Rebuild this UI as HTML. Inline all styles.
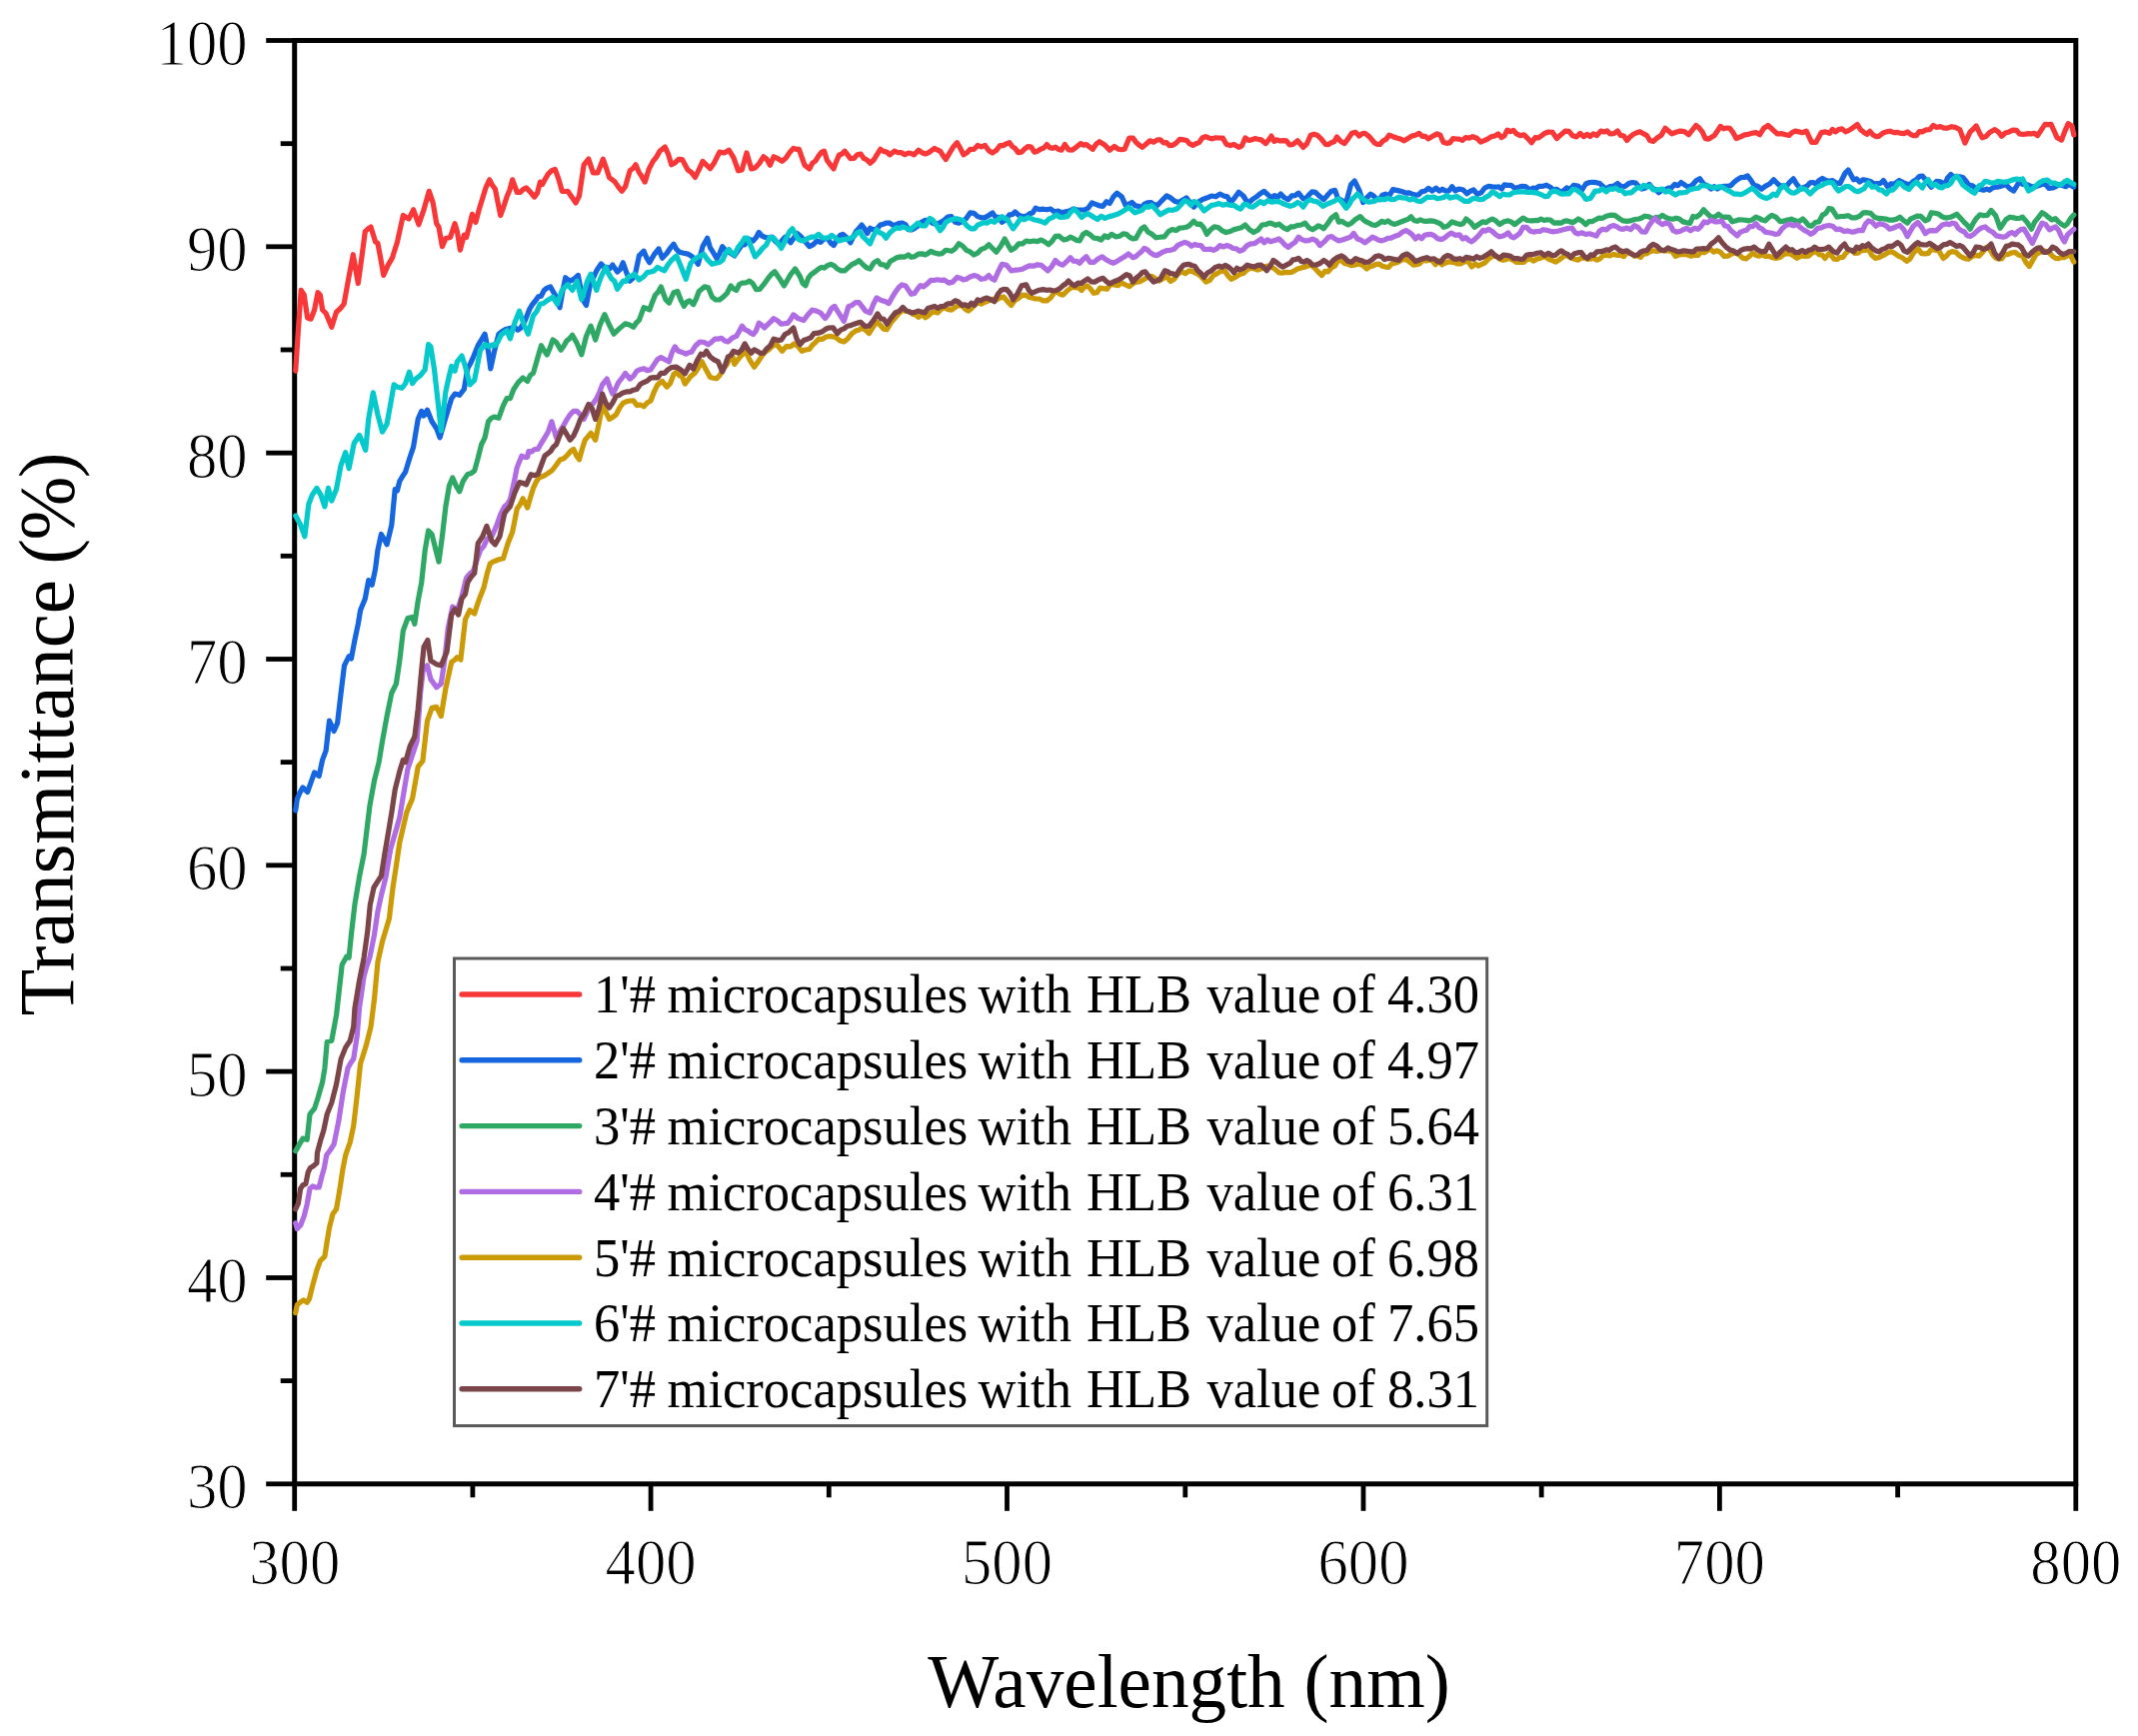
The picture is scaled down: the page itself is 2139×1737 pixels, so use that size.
<!DOCTYPE html>
<html lang="en"><head><meta charset="utf-8"><title>Transmittance vs Wavelength</title>
<style>html,body{margin:0;padding:0;background:#fff}svg{display:block}</style></head>
<body>
<svg width="2139" height="1737" viewBox="0 0 2139 1737">
<rect width="2139" height="1737" fill="#fff"/>
<rect x="294.7" y="40.5" width="1782.1" height="1444.3" fill="none" stroke="#000" stroke-width="5.0"/>
<g stroke="#000" stroke-width="4.8">
<line x1="294.7" y1="1484.8" x2="294.7" y2="1511.8"/>
<line x1="472.9" y1="1484.8" x2="472.9" y2="1498.3"/>
<line x1="651.1" y1="1484.8" x2="651.1" y2="1511.8"/>
<line x1="829.3" y1="1484.8" x2="829.3" y2="1498.3"/>
<line x1="1007.5" y1="1484.8" x2="1007.5" y2="1511.8"/>
<line x1="1185.8" y1="1484.8" x2="1185.8" y2="1498.3"/>
<line x1="1364.0" y1="1484.8" x2="1364.0" y2="1511.8"/>
<line x1="1542.2" y1="1484.8" x2="1542.2" y2="1498.3"/>
<line x1="1720.4" y1="1484.8" x2="1720.4" y2="1511.8"/>
<line x1="1898.6" y1="1484.8" x2="1898.6" y2="1498.3"/>
<line x1="2076.8" y1="1484.8" x2="2076.8" y2="1511.8"/>
<line x1="294.7" y1="1484.8" x2="266.2" y2="1484.8"/>
<line x1="294.7" y1="1381.6" x2="280.7" y2="1381.6"/>
<line x1="294.7" y1="1278.5" x2="266.2" y2="1278.5"/>
<line x1="294.7" y1="1175.3" x2="280.7" y2="1175.3"/>
<line x1="294.7" y1="1072.1" x2="266.2" y2="1072.1"/>
<line x1="294.7" y1="969.0" x2="280.7" y2="969.0"/>
<line x1="294.7" y1="865.8" x2="266.2" y2="865.8"/>
<line x1="294.7" y1="762.6" x2="280.7" y2="762.6"/>
<line x1="294.7" y1="659.5" x2="266.2" y2="659.5"/>
<line x1="294.7" y1="556.3" x2="280.7" y2="556.3"/>
<line x1="294.7" y1="453.2" x2="266.2" y2="453.2"/>
<line x1="294.7" y1="350.0" x2="280.7" y2="350.0"/>
<line x1="294.7" y1="246.8" x2="266.2" y2="246.8"/>
<line x1="294.7" y1="143.7" x2="280.7" y2="143.7"/>
<line x1="294.7" y1="40.5" x2="266.2" y2="40.5"/>
</g>
<g fill="none" stroke-width="5.2" stroke-linejoin="round" stroke-linecap="round">
<path stroke="#F83838" d="M295.7,371.1 L298.4,330.0 L301.2,290.4 L304.2,295.0 L307.6,318.1 L311.1,319.2 L314.6,310.0 L318.0,292.7 L320.3,295.0 L322.6,310.0 L326.1,313.5 L329.0,320.6 L331.8,327.3 L336.5,312.3 L340.4,308.8 L344.1,304.2 L349.1,276.6 L353.3,254.7 L358.3,283.5 L361.8,258.2 L365.3,231.7 L368.1,229.0 L371.0,227.1 L375.6,242.0 L377.9,243.2 L380.8,258.5 L383.7,275.4 L388.3,265.1 L392.4,258.2 L397.5,242.0 L400.4,228.7 L403.3,215.5 L406.2,217.5 L409.0,219.0 L413.6,209.8 L418.9,224.7 L424.0,209.8 L429.3,191.3 L433.2,202.9 L436.7,223.6 L439.0,227.1 L442.4,246.6 L445.9,238.6 L450.5,237.4 L455.1,223.6 L457.4,231.7 L460.4,250.1 L464.3,235.1 L466.6,237.4 L469.5,226.6 L472.4,214.4 L475.9,222.4 L479.3,209.6 L482.8,198.2 L486.2,187.3 L489.7,179.8 L492.6,185.4 L495.4,189.0 L500.7,215.5 L503.8,207.0 L507.0,197.1 L509.8,190.5 L512.7,179.8 L517.3,192.5 L520.4,192.3 L523.5,189.3 L526.5,187.9 L530.6,192.1 L534.6,197.1 L537.5,193.1 L540.4,182.1 L542.7,184.4 L545.6,178.8 L548.4,174.1 L551.9,170.7 L555.3,169.4 L558.8,178.9 L562.3,191.3 L565.1,191.5 L568.0,191.3 L572.1,197.3 L576.1,202.9 L579.5,195.9 L584.1,164.8 L588.8,159.1 L593.4,172.9 L598.0,172.9 L603.3,159.1 L606.4,167.8 L609.5,177.5 L612.4,179.7 L615.3,182.1 L618.7,187.1 L622.2,191.3 L625.6,186.7 L630.2,170.6 L633.1,168.7 L636.0,164.8 L639.1,172.1 L642.1,176.6 L645.2,182.1 L649.2,169.3 L653.3,161.4 L656.7,157.1 L660.2,151.0 L665.3,147.1 L668.5,154.1 L671.7,164.8 L675.3,162.9 L678.9,159.3 L682.5,159.6 L685.3,164.7 L688.1,169.9 L691.8,172.6 L695.5,177.4 L699.3,169.7 L703.0,161.4 L706.8,165.2 L710.5,168.7 L714.3,163.3 L717.1,157.6 L719.9,152.1 L724.5,153.0 L729.2,150.2 L733.9,157.7 L738.6,170.8 L742.3,169.9 L747.0,153.0 L751.7,168.9 L755.4,168.0 L759.6,163.5 L763.8,156.8 L767.1,159.2 L770.4,165.2 L774.1,156.8 L778.3,158.7 L782.5,161.4 L786.3,158.0 L790.0,152.6 L793.8,148.4 L796.6,149.3 L799.4,149.3 L802.2,157.4 L805.0,165.2 L809.7,168.9 L812.8,163.2 L815.9,161.0 L819.0,155.8 L821.8,152.4 L824.6,151.2 L827.4,160.2 L830.3,164.3 L834.0,168.9 L836.8,161.2 L839.6,154.9 L842.4,154.0 L845.2,151.2 L848.0,154.9 L850.8,158.6 L854.3,158.4 L857.7,154.7 L861.1,154.0 L864.2,158.4 L867.4,160.0 L870.5,163.3 L873.9,160.3 L877.3,154.8 L880.8,149.3 L883.9,151.4 L887.0,152.0 L890.1,154.9 L894.8,151.2 L898.3,152.7 L901.8,152.7 L905.3,154.8 L908.8,153.0 L911.6,153.5 L914.4,154.9 L919.1,150.2 L922.4,152.8 L925.7,154.0 L928.8,152.8 L931.9,150.6 L935.0,148.4 L937.8,150.0 L940.6,151.2 L943.4,155.6 L946.2,159.6 L950.0,153.2 L953.7,147.0 L957.5,142.7 L960.7,148.3 L964.0,154.9 L967.3,152.9 L970.6,149.3 L974.3,149.5 L978.1,145.5 L981.8,146.9 L985.5,145.5 L989.3,150.7 L993.0,153.0 L996.8,150.3 L1000.5,145.5 L1003.6,145.6 L1006.7,143.9 L1009.9,142.7 L1012.7,146.6 L1015.5,148.4 L1018.7,152.6 L1022.0,152.1 L1025.3,148.8 L1028.6,146.5 L1031.7,147.1 L1034.8,152.2 L1037.9,151.2 L1041.0,149.3 L1044.2,148.1 L1047.3,144.6 L1050.2,147.6 L1053.1,148.3 L1055.9,147.2 L1058.7,149.2 L1062.0,150.2 L1065.3,144.5 L1069.0,149.8 L1072.7,150.2 L1077.0,147.1 L1081.2,143.6 L1084.0,145.1 L1086.8,144.5 L1090.0,147.1 L1093.3,149.2 L1096.6,144.3 L1099.9,141.7 L1104.5,144.5 L1107.4,147.2 L1110.2,150.2 L1114.8,146.4 L1118.6,149.2 L1121.9,149.7 L1125.1,149.2 L1129.8,138.0 L1133.5,138.0 L1136.7,142.6 L1139.8,145.2 L1142.9,147.4 L1146.6,144.2 L1150.4,140.8 L1154.1,142.2 L1157.9,139.9 L1161.0,139.8 L1164.1,142.8 L1167.2,142.7 L1170.0,145.6 L1172.8,145.5 L1176.6,143.2 L1180.3,139.3 L1184.1,139.9 L1187.2,140.5 L1190.3,143.9 L1193.4,145.5 L1196.5,143.7 L1199.7,142.6 L1202.8,138.0 L1206.1,136.6 L1209.5,138.0 L1212.9,138.9 L1216.2,137.8 L1219.6,138.0 L1223.3,138.1 L1227.1,144.5 L1230.8,145.6 L1234.6,144.5 L1239.3,147.4 L1242.5,145.8 L1245.8,138.0 L1249.1,140.3 L1252.3,139.9 L1255.5,138.6 L1258.6,139.3 L1261.7,139.9 L1266.4,143.6 L1269.2,140.2 L1272.0,136.1 L1274.8,141.4 L1277.6,139.9 L1280.7,141.0 L1283.8,140.6 L1287.0,140.8 L1290.2,144.8 L1293.5,144.5 L1298.2,140.8 L1301.0,144.0 L1303.8,147.4 L1307.5,143.8 L1311.3,135.2 L1314.6,134.3 L1317.8,135.2 L1322.0,139.2 L1326.2,144.5 L1329.1,144.6 L1331.9,142.7 L1334.7,141.8 L1337.5,137.1 L1341.2,141.2 L1345.0,143.6 L1348.7,138.9 L1352.4,133.3 L1356.2,132.3 L1359.9,136.1 L1362.7,133.8 L1365.5,133.3 L1368.7,135.6 L1371.8,138.8 L1374.9,142.7 L1377.7,144.4 L1380.5,144.5 L1383.6,141.0 L1386.7,139.4 L1389.9,135.2 L1393.6,136.7 L1397.3,138.0 L1401.1,139.0 L1404.8,140.8 L1408.6,138.6 L1412.3,136.1 L1416.1,135.3 L1419.8,133.3 L1422.9,136.4 L1426.0,136.4 L1429.1,138.9 L1433.5,136.1 L1437.8,133.9 L1440.9,135.2 L1444.0,142.3 L1447.1,143.3 L1450.4,142.9 L1453.7,138.6 L1456.8,139.0 L1459.9,139.2 L1463.0,140.4 L1466.5,137.5 L1469.9,138.2 L1473.3,136.7 L1477.4,138.2 L1481.4,142.1 L1485.5,140.4 L1488.8,138.9 L1492.0,136.7 L1495.5,136.0 L1498.9,134.0 L1502.3,137.6 L1505.1,135.8 L1507.9,130.2 L1511.1,131.7 L1514.2,130.5 L1517.3,133.9 L1521.0,135.7 L1524.8,134.8 L1528.5,138.6 L1532.3,142.8 L1536.0,137.6 L1539.3,137.8 L1542.5,135.6 L1545.8,133.2 L1549.1,132.0 L1553.3,132.4 L1557.5,138.6 L1561.7,134.7 L1565.9,131.1 L1569.7,131.3 L1573.4,135.8 L1577.2,136.9 L1580.9,133.5 L1584.6,136.7 L1587.8,134.5 L1590.9,136.5 L1594.0,133.9 L1597.7,135.5 L1601.5,131.1 L1605.2,132.0 L1608.0,130.9 L1610.8,133.9 L1614.6,133.7 L1618.3,131.1 L1621.4,135.4 L1624.6,136.0 L1627.7,140.4 L1630.8,137.0 L1633.9,134.5 L1637.0,133.0 L1640.8,131.8 L1644.5,133.9 L1647.6,135.5 L1650.7,140.6 L1653.9,141.4 L1657.9,138.0 L1662.0,135.4 L1666.0,128.3 L1669.3,131.0 L1672.6,133.9 L1676.8,132.3 L1681.0,131.1 L1685.2,131.6 L1689.4,134.8 L1693.2,130.0 L1696.9,125.5 L1700.0,128.1 L1703.1,131.8 L1706.2,138.6 L1709.1,139.1 L1711.9,137.6 L1715.0,135.8 L1718.1,131.3 L1721.2,126.4 L1724.3,128.8 L1727.5,128.0 L1730.6,128.3 L1733.8,132.5 L1737.1,138.6 L1741.3,136.8 L1745.5,134.8 L1749.3,134.3 L1753.0,133.3 L1756.8,132.6 L1760.5,134.8 L1764.7,128.2 L1768.9,125.5 L1772.0,128.3 L1775.2,131.3 L1778.3,133.9 L1782.5,133.7 L1786.7,134.8 L1789.8,135.5 L1792.9,132.6 L1796.1,131.1 L1799.8,131.9 L1803.5,132.7 L1807.2,131.1 L1812.5,142.3 L1816.9,142.3 L1822.2,132.6 L1826.3,131.9 L1830.4,133.4 L1833.4,129.4 L1836.4,131.9 L1839.4,129.6 L1842.9,128.9 L1846.4,131.9 L1849.9,130.4 L1854.0,127.8 L1858.1,124.4 L1861.5,129.8 L1864.9,132.6 L1867.8,134.4 L1870.8,131.3 L1873.8,134.9 L1876.8,136.6 L1879.8,136.3 L1883.6,133.2 L1887.3,131.9 L1891.0,131.2 L1894.8,132.6 L1898.5,132.4 L1902.3,133.4 L1905.3,133.6 L1908.3,131.9 L1911.3,134.3 L1914.3,135.7 L1917.2,135.6 L1920.2,131.5 L1923.2,131.9 L1927.0,129.9 L1930.7,129.6 L1934.2,125.4 L1937.7,127.5 L1941.2,126.6 L1944.9,128.2 L1948.7,128.1 L1952.4,126.7 L1956.2,127.4 L1960.7,129.6 L1965.9,143.1 L1971.1,131.9 L1974.1,129.2 L1977.1,125.9 L1980.1,132.2 L1983.1,137.8 L1986.9,136.6 L1990.6,132.6 L1995.8,129.6 L1999.2,131.9 L2002.6,136.3 L2006.3,133.0 L2010.1,131.9 L2013.8,130.1 L2017.5,130.4 L2020.5,134.0 L2023.5,134.3 L2026.5,134.1 L2029.5,133.7 L2032.5,133.9 L2035.5,133.4 L2038.5,135.6 L2042.2,130.1 L2046.0,124.4 L2049.0,124.6 L2052.0,124.4 L2055.0,130.8 L2058.0,137.8 L2062.5,140.1 L2065.8,131.4 L2069.2,123.6 L2072.9,125.9 L2074.8,134.9"/>
<path stroke="#1666E0" d="M295.7,811.0 L297.3,799.4 L300.2,792.8 L303.0,787.9 L307.6,792.5 L311.1,782.9 L314.6,772.9 L319.2,776.4 L322.6,760.3 L326.1,751.1 L329.5,721.1 L334.1,731.5 L337.6,723.4 L341.1,693.5 L344.5,665.8 L349.1,656.6 L351.4,658.9 L354.9,640.5 L358.3,624.3 L360.6,610.5 L365.3,599.0 L368.7,580.6 L372.2,585.2 L375.6,569.0 L377.9,550.6 L381.4,534.5 L384.3,539.5 L387.1,544.8 L391.8,525.3 L395.2,489.5 L397.5,490.7 L399.8,481.5 L402.7,476.6 L405.6,472.3 L410.2,457.3 L413.6,447.1 L418.2,419.4 L421.7,411.4 L424.0,416.0 L427.5,410.2 L432.1,421.8 L436.7,428.7 L440.1,437.9 L444.7,421.8 L448.2,410.2 L451.7,398.7 L455.1,394.1 L459.7,395.3 L464.3,389.5 L467.8,368.8 L470.7,363.6 L473.5,357.2 L478.2,345.7 L481.6,340.0 L485.1,334.2 L488.5,351.5 L490.8,368.8 L494.3,352.6 L498.9,334.2 L502.4,331.5 L505.8,329.6 L510.4,328.4 L515.0,327.3 L517.9,330.2 L520.8,328.4 L525.4,320.4 L530.0,308.8 L532.9,304.2 L535.8,300.8 L538.6,296.8 L541.5,296.2 L544.4,290.4 L547.3,288.1 L550.7,287.0 L555.3,295.0 L560.0,307.7 L562.8,292.0 L565.7,277.7 L570.3,281.2 L574.4,279.2 L578.4,275.4 L583.0,299.6 L586.5,305.4 L591.1,281.2 L593.9,277.1 L596.8,270.8 L601.4,263.9 L604.3,267.1 L607.2,267.4 L610.1,268.6 L612.9,265.1 L617.6,272.0 L620.4,269.6 L623.3,262.8 L626.8,272.8 L630.2,281.2 L633.1,278.4 L636.0,272.0 L639.4,255.9 L644.1,251.2 L646.9,257.9 L649.8,262.8 L654.4,254.7 L659.0,248.9 L662.5,258.2 L667.1,253.5 L670.6,248.3 L674.0,244.3 L676.8,249.4 L679.6,252.2 L683.9,253.3 L688.1,254.1 L690.9,255.7 L693.7,257.8 L698.4,264.3 L703.0,246.6 L707.7,238.2 L710.5,247.9 L713.3,252.2 L717.1,258.7 L719.9,253.7 L722.7,246.6 L726.4,251.3 L730.6,253.0 L734.8,255.9 L738.6,250.3 L742.3,244.7 L745.1,245.0 L747.9,239.1 L750.7,239.8 L753.5,241.0 L756.4,237.8 L759.2,232.5 L762.0,235.8 L764.8,237.2 L768.5,238.0 L772.3,237.2 L776.0,241.8 L779.7,244.7 L782.5,240.4 L785.4,237.2 L788.2,239.5 L791.0,242.8 L794.2,238.0 L797.5,233.5 L801.3,236.8 L805.0,241.0 L809.7,246.6 L813.4,244.9 L817.2,241.0 L820.9,242.4 L824.6,238.6 L828.4,239.1 L831.2,243.2 L834.0,245.6 L837.7,239.1 L840.5,235.5 L843.3,234.4 L847.1,237.8 L850.8,242.8 L853.6,237.0 L856.4,231.6 L859.3,228.5 L862.1,225.1 L864.9,228.8 L867.7,233.5 L870.5,228.2 L873.3,229.7 L877.0,229.3 L880.8,225.1 L883.9,224.2 L887.0,223.0 L890.1,223.2 L892.9,225.1 L895.7,225.1 L899.5,223.4 L903.2,223.2 L906.0,224.7 L908.8,229.7 L911.6,230.0 L914.4,228.8 L918.2,226.2 L921.9,222.3 L925.7,220.3 L929.4,220.4 L933.2,223.4 L936.9,224.1 L940.6,222.8 L944.4,220.4 L948.1,217.1 L951.9,216.6 L955.6,222.3 L959.3,223.2 L963.1,221.3 L966.8,218.5 L970.6,212.9 L974.3,213.3 L978.1,216.6 L981.8,217.8 L985.5,217.6 L989.3,215.5 L993.0,212.9 L996.1,217.4 L999.3,217.4 L1002.4,222.3 L1006.1,220.0 L1009.9,214.8 L1012.7,214.7 L1015.5,212.0 L1019.2,215.3 L1023.0,216.6 L1026.7,216.1 L1030.4,213.8 L1033.2,212.8 L1036.1,208.2 L1039.8,209.7 L1043.5,209.2 L1047.3,209.8 L1051.1,209.0 L1054.9,212.0 L1058.7,211.0 L1062.5,212.8 L1066.2,211.9 L1069.9,211.0 L1073.7,209.1 L1077.4,209.8 L1081.2,210.0 L1084.9,210.1 L1088.6,208.2 L1092.4,203.0 L1096.1,204.4 L1099.9,205.8 L1103.6,206.3 L1106.9,201.7 L1110.2,203.5 L1113.9,196.9 L1117.6,193.2 L1122.3,196.9 L1126.1,205.4 L1129.3,204.3 L1132.6,202.5 L1135.9,205.9 L1139.2,206.3 L1142.0,207.9 L1144.8,204.4 L1148.0,202.9 L1151.3,202.5 L1154.6,204.6 L1157.9,205.4 L1160.7,202.5 L1163.5,199.7 L1167.2,195.9 L1171.0,197.9 L1175.2,201.2 L1179.4,202.5 L1183.1,200.2 L1186.9,197.9 L1190.6,202.7 L1194.3,207.2 L1198.6,202.3 L1202.8,199.7 L1205.9,198.5 L1209.0,197.4 L1212.1,196.0 L1216.3,196.8 L1220.5,194.1 L1224.3,196.0 L1228.0,196.9 L1231.3,202.5 L1234.6,198.8 L1239.3,192.3 L1243.9,196.0 L1248.6,203.5 L1252.8,199.7 L1257.0,196.9 L1260.8,193.8 L1264.5,191.3 L1268.3,194.6 L1272.0,197.9 L1275.1,195.6 L1278.2,197.4 L1281.3,194.1 L1285.1,197.8 L1288.8,199.7 L1292.3,195.9 L1295.7,195.6 L1299.1,193.2 L1303.8,198.8 L1306.6,198.5 L1309.4,195.1 L1312.7,191.9 L1316.0,192.3 L1320.2,196.3 L1324.4,199.7 L1328.1,195.3 L1331.9,191.3 L1335.6,190.4 L1338.4,198.2 L1341.2,199.7 L1344.0,201.8 L1346.8,202.5 L1351.5,184.8 L1355.2,181.0 L1359.9,190.4 L1363.7,202.5 L1367.4,197.9 L1371.2,194.1 L1374.0,195.8 L1376.8,198.8 L1379.9,199.8 L1383.0,195.1 L1386.1,194.1 L1389.9,195.9 L1393.6,189.6 L1397.3,190.4 L1400.5,191.1 L1403.6,192.0 L1406.7,193.2 L1409.8,192.9 L1412.9,194.2 L1416.1,195.1 L1419.2,194.8 L1422.3,191.8 L1425.4,191.3 L1429.2,188.4 L1433.0,191.0 L1436.8,188.2 L1440.0,191.1 L1443.1,189.2 L1446.2,191.0 L1449.5,191.0 L1452.7,186.7 L1456.0,191.0 L1459.3,189.1 L1463.5,189.7 L1467.7,193.8 L1471.0,191.2 L1474.3,190.0 L1478.0,194.3 L1481.7,192.8 L1485.5,188.0 L1489.2,186.3 L1493.0,186.8 L1496.7,187.2 L1499.5,186.8 L1502.3,189.1 L1505.1,184.8 L1507.9,185.4 L1511.7,185.3 L1515.4,188.2 L1518.7,187.6 L1522.0,186.3 L1526.2,186.5 L1530.4,190.0 L1533.5,188.1 L1536.6,188.6 L1539.7,186.3 L1543.5,186.4 L1547.2,185.2 L1551.0,187.2 L1554.2,190.2 L1557.5,189.3 L1560.8,191.9 L1564.1,191.0 L1567.5,187.8 L1570.9,189.5 L1574.3,185.4 L1578.6,186.0 L1582.8,190.0 L1586.5,184.0 L1590.3,182.5 L1593.7,182.4 L1597.1,182.7 L1600.5,183.5 L1603.8,186.7 L1607.1,189.1 L1610.8,186.5 L1614.6,186.2 L1618.3,183.5 L1622.1,186.7 L1625.8,186.3 L1629.5,183.6 L1633.3,182.5 L1636.4,183.0 L1639.5,186.4 L1642.6,189.1 L1646.4,187.9 L1650.1,184.4 L1653.2,188.4 L1656.4,189.6 L1659.5,192.8 L1662.6,190.0 L1665.7,189.8 L1668.8,188.2 L1672.1,188.1 L1675.4,184.5 L1678.7,185.7 L1681.9,182.5 L1685.7,185.2 L1689.4,187.2 L1693.2,184.9 L1696.9,180.8 L1700.6,178.8 L1704.4,184.1 L1708.1,185.8 L1711.9,189.1 L1715.0,186.6 L1718.1,189.0 L1721.2,187.2 L1725.0,186.3 L1728.7,186.3 L1731.8,185.6 L1734.9,182.2 L1738.1,179.7 L1741.5,177.7 L1744.9,177.5 L1748.3,176.0 L1751.6,180.1 L1754.9,185.4 L1758.6,186.2 L1762.4,189.1 L1766.4,186.1 L1770.5,184.0 L1774.5,179.7 L1777.3,182.7 L1780.1,185.4 L1783.4,186.2 L1786.7,187.2 L1790.4,182.3 L1794.2,178.8 L1797.9,184.8 L1801.7,189.1 L1804.8,187.4 L1807.9,186.2 L1811.0,182.8 L1814.0,182.5 L1816.9,184.1 L1819.9,180.5 L1823.3,178.5 L1826.7,180.5 L1830.0,181.3 L1833.4,180.5 L1837.2,183.2 L1840.9,183.5 L1846.1,173.0 L1849.1,170.0 L1854.4,179.8 L1857.4,178.9 L1860.4,182.0 L1864.1,179.7 L1867.8,180.5 L1871.3,181.5 L1874.8,183.9 L1878.3,183.5 L1881.3,183.5 L1884.3,180.5 L1888.8,187.2 L1891.8,183.8 L1894.8,184.3 L1900.0,180.5 L1904.1,182.6 L1908.3,184.3 L1911.3,184.4 L1914.3,181.3 L1917.2,179.8 L1920.2,176.6 L1923.2,176.0 L1927.7,181.3 L1932.2,187.2 L1937.5,181.3 L1941.6,181.9 L1945.7,184.3 L1948.7,177.7 L1951.7,174.5 L1954.7,177.3 L1957.7,176.8 L1960.7,176.9 L1963.7,177.5 L1966.6,180.7 L1969.6,185.0 L1973.4,185.8 L1977.1,188.7 L1980.9,189.4 L1984.6,190.2 L1987.6,189.1 L1990.6,190.2 L1994.3,187.5 L1998.1,187.2 L2001.1,186.5 L2004.1,185.5 L2007.1,185.0 L2010.8,188.7 L2014.6,191.0 L2017.5,186.4 L2020.5,181.3 L2023.5,184.4 L2026.5,184.3 L2030.3,185.7 L2034.0,187.2 L2037.0,186.6 L2040.0,185.6 L2043.0,184.3 L2046.5,184.5 L2050.0,188.4 L2053.5,188.0 L2057.0,186.6 L2060.5,184.5 L2064.0,185.7 L2066.9,186.7 L2069.9,184.3 L2074.8,187.2"/>
<path stroke="#2FA866" d="M295.7,1151.8 L299.6,1144.9 L303.0,1139.1 L307.2,1140.3 L310.0,1114.9 L314.6,1109.2 L318.0,1098.8 L322.6,1082.7 L324.9,1068.8 L327.2,1042.4 L331.8,1041.2 L336.5,1015.9 L339.9,985.9 L342.2,965.2 L346.8,957.1 L349.1,958.2 L351.4,935.2 L354.9,905.3 L359.5,877.6 L364.1,854.6 L367.0,830.4 L369.9,806.4 L374.5,781.0 L379.1,762.6 L382.5,741.8 L387.1,716.5 L391.8,693.5 L396.4,684.2 L399.8,661.2 L403.3,631.2 L407.9,618.6 L412.5,617.4 L414.8,624.3 L418.2,601.3 L421.7,582.9 L425.2,550.6 L428.6,531.0 L432.1,534.5 L435.5,548.3 L439.0,562.1 L442.4,536.8 L445.9,506.8 L449.4,486.1 L452.8,478.0 L456.3,486.1 L459.7,491.8 L463.2,481.5 L467.8,474.6 L471.2,473.7 L474.7,471.1 L478.2,458.4 L481.6,444.8 L485.1,437.9 L488.5,421.8 L491.4,418.5 L494.3,417.1 L498.9,418.3 L503.5,405.6 L507.0,398.7 L510.4,398.7 L513.9,389.5 L518.5,382.6 L523.1,378.0 L527.7,381.4 L530.6,375.3 L533.5,373.4 L538.1,357.2 L541.5,345.7 L544.4,350.7 L547.3,354.9 L550.2,348.2 L553.0,340.0 L556.5,342.3 L561.1,350.3 L564.0,346.2 L566.9,341.1 L569.7,338.9 L572.6,335.3 L577.2,343.4 L581.8,354.9 L586.5,336.5 L591.1,326.1 L595.7,340.0 L600.3,325.0 L604.9,314.6 L609.5,325.0 L614.1,334.2 L618.7,329.6 L622.2,326.6 L625.6,323.8 L629.7,324.9 L633.7,327.3 L636.6,323.0 L639.4,320.4 L644.1,307.7 L646.9,308.7 L649.8,310.0 L652.7,302.2 L655.6,295.0 L658.5,292.2 L661.3,287.0 L665.9,299.6 L669.4,303.1 L674.0,292.7 L677.8,291.5 L681.0,299.8 L684.3,306.4 L687.1,302.2 L689.9,300.8 L693.7,304.6 L696.5,299.0 L699.3,291.5 L702.1,289.2 L704.9,286.8 L708.6,287.7 L712.4,297.1 L716.1,300.0 L719.9,299.9 L723.6,297.1 L727.4,293.4 L731.1,285.9 L733.9,289.0 L736.7,290.5 L739.5,284.8 L742.3,283.1 L746.1,283.0 L749.8,281.2 L753.1,283.6 L756.4,289.6 L760.1,289.3 L763.8,284.9 L768.5,278.4 L771.8,274.4 L775.1,271.8 L779.7,278.4 L784.4,285.9 L787.7,280.2 L791.0,274.6 L795.6,269.0 L800.3,276.5 L803.1,283.5 L805.9,285.9 L808.7,278.2 L811.5,274.6 L815.3,272.0 L819.0,269.0 L821.8,267.4 L824.6,268.1 L827.9,265.7 L831.2,264.3 L834.5,265.9 L837.7,269.0 L841.5,270.9 L845.2,270.9 L849.0,267.4 L852.7,264.3 L856.0,263.0 L859.3,260.6 L863.9,265.3 L867.2,268.1 L870.5,269.0 L874.2,262.9 L878.0,260.6 L881.1,264.6 L884.2,264.8 L887.3,267.2 L890.6,261.5 L893.9,259.7 L897.6,257.6 L901.3,256.9 L905.1,257.1 L908.8,255.0 L911.6,257.3 L914.4,256.9 L919.1,254.1 L922.4,253.8 L925.7,255.0 L928.5,253.4 L931.3,251.3 L935.0,253.1 L938.8,254.1 L942.5,253.6 L946.2,250.3 L949.1,250.8 L951.9,251.3 L955.6,248.8 L959.3,243.8 L963.1,246.1 L966.8,250.3 L970.6,251.9 L974.3,255.0 L978.1,253.1 L981.8,249.4 L985.5,248.1 L989.3,244.7 L993.0,248.5 L996.8,252.2 L1001.0,246.5 L1005.2,239.1 L1008.5,245.1 L1011.7,250.3 L1015.5,248.1 L1019.2,243.8 L1023.0,243.9 L1026.7,241.0 L1030.4,241.7 L1034.2,241.0 L1037.9,241.6 L1041.7,240.0 L1045.4,242.0 L1049.1,244.7 L1052.6,241.3 L1056.1,236.3 L1059.6,236.2 L1064.3,240.0 L1067.6,239.2 L1070.9,237.2 L1074.0,238.6 L1077.1,240.4 L1080.2,240.9 L1083.5,234.5 L1086.8,232.5 L1090.5,234.8 L1094.3,238.1 L1098.0,238.5 L1101.7,240.0 L1105.2,236.0 L1108.6,237.5 L1112.0,234.3 L1116.2,236.9 L1120.4,236.2 L1123.7,233.9 L1127.0,234.3 L1130.3,237.4 L1133.5,239.0 L1136.4,238.5 L1139.2,233.4 L1142.0,228.8 L1144.8,226.9 L1148.5,232.0 L1152.3,234.3 L1156.5,237.8 L1160.7,237.2 L1164.9,236.8 L1169.1,231.5 L1172.8,229.5 L1176.6,230.6 L1180.3,228.0 L1184.1,227.8 L1186.9,227.3 L1189.7,225.9 L1194.3,221.3 L1197.6,224.3 L1200.9,224.1 L1204.2,227.8 L1207.4,234.3 L1211.2,229.8 L1214.9,226.9 L1218.7,227.5 L1222.4,230.6 L1226.6,232.6 L1230.8,231.5 L1234.6,229.6 L1238.3,228.7 L1242.1,227.7 L1245.8,225.0 L1250.0,229.7 L1254.2,232.5 L1258.4,230.3 L1262.6,225.0 L1266.4,224.7 L1270.1,223.1 L1273.2,224.0 L1276.4,225.3 L1279.5,224.1 L1283.7,227.6 L1287.9,229.7 L1291.2,226.9 L1294.4,226.9 L1298.2,225.4 L1301.9,225.0 L1305.7,223.1 L1309.4,227.7 L1313.2,229.7 L1316.0,228.1 L1318.8,225.9 L1321.6,227.0 L1324.4,228.7 L1328.1,224.0 L1331.9,218.4 L1336.5,214.7 L1339.3,222.2 L1342.2,221.3 L1345.4,223.2 L1348.7,225.0 L1352.4,222.9 L1356.2,219.4 L1360.9,216.6 L1364.1,220.1 L1367.4,222.2 L1370.2,223.4 L1373.0,225.0 L1376.1,225.4 L1379.3,223.7 L1382.4,221.3 L1385.5,222.5 L1388.6,221.0 L1391.7,223.1 L1394.8,224.5 L1398.0,223.6 L1401.1,222.2 L1404.8,220.8 L1408.6,219.4 L1411.7,216.8 L1414.8,220.7 L1417.9,221.3 L1421.0,219.9 L1424.2,221.1 L1427.3,221.3 L1431.2,220.9 L1435.0,221.3 L1438.7,222.8 L1441.5,224.2 L1444.3,227.4 L1448.5,226.0 L1452.7,221.8 L1457.0,223.5 L1461.2,224.6 L1464.0,223.5 L1466.8,219.0 L1471.0,222.2 L1475.2,227.4 L1479.4,224.5 L1483.6,221.8 L1486.7,222.7 L1489.8,220.5 L1493.0,219.0 L1496.7,221.1 L1500.4,224.6 L1504.7,221.8 L1508.9,220.9 L1512.1,222.2 L1515.4,224.6 L1519.6,221.4 L1523.8,218.1 L1528.0,220.5 L1532.3,220.9 L1535.4,220.6 L1538.5,220.7 L1541.6,219.0 L1544.7,220.5 L1547.8,219.9 L1551.0,220.0 L1554.7,223.1 L1558.4,222.8 L1561.6,223.2 L1564.7,221.4 L1567.8,220.9 L1570.6,221.8 L1573.4,222.8 L1576.2,221.0 L1579.0,219.0 L1582.8,221.1 L1586.5,224.6 L1589.6,221.6 L1592.7,221.7 L1595.9,220.0 L1599.6,218.2 L1603.3,218.3 L1607.1,216.2 L1611.3,215.2 L1615.5,215.3 L1619.7,218.4 L1623.9,220.9 L1627.7,221.3 L1631.4,220.9 L1635.6,219.5 L1639.8,219.0 L1642.6,218.0 L1645.4,216.2 L1649.7,216.9 L1653.9,219.0 L1657.0,217.4 L1660.1,217.7 L1663.2,215.3 L1667.0,217.8 L1670.7,219.0 L1673.8,219.2 L1676.9,218.2 L1680.1,219.0 L1683.8,221.9 L1687.5,222.8 L1690.7,223.5 L1693.8,216.5 L1696.9,217.2 L1700.6,214.8 L1704.4,209.7 L1708.1,213.8 L1711.9,217.2 L1715.6,217.2 L1719.3,214.3 L1723.1,217.3 L1726.8,217.2 L1729.9,217.3 L1733.1,221.9 L1736.2,220.9 L1739.9,219.8 L1743.7,220.0 L1746.5,220.3 L1749.3,220.9 L1753.0,219.9 L1756.8,217.2 L1759.9,218.4 L1763.0,220.1 L1766.1,220.9 L1769.4,217.6 L1772.7,215.3 L1776.9,217.4 L1781.1,221.8 L1784.8,221.1 L1788.6,220.0 L1792.3,219.2 L1796.1,220.9 L1799.8,221.7 L1803.5,219.0 L1806.5,221.8 L1809.5,225.6 L1812.5,226.2 L1816.2,222.5 L1819.9,221.7 L1823.3,215.1 L1826.7,213.4 L1829.7,208.5 L1832.7,209.0 L1837.9,217.2 L1841.6,216.5 L1845.4,216.4 L1849.1,215.7 L1852.9,217.9 L1856.6,217.8 L1860.4,216.4 L1864.1,212.9 L1867.8,212.7 L1871.6,213.4 L1875.3,217.2 L1879.1,218.4 L1882.8,218.7 L1886.6,219.1 L1890.3,220.2 L1893.8,220.1 L1897.3,219.3 L1900.8,217.2 L1904.5,220.7 L1908.3,223.2 L1911.3,219.2 L1914.3,217.9 L1918.0,216.2 L1921.7,216.4 L1926.2,220.9 L1929.2,219.7 L1932.2,212.7 L1936.0,213.3 L1939.7,214.2 L1942.7,216.6 L1945.7,217.9 L1948.7,217.8 L1951.7,217.2 L1954.7,215.8 L1957.7,214.2 L1961.4,218.2 L1965.1,222.4 L1968.1,225.2 L1971.1,229.2 L1974.1,223.4 L1977.1,218.7 L1980.9,214.8 L1984.6,215.7 L1988.4,215.3 L1992.1,210.4 L1996.6,215.7 L2001.1,228.4 L2004.1,223.9 L2007.1,219.4 L2010.8,217.2 L2014.6,217.9 L2017.5,218.5 L2020.5,218.4 L2023.5,217.2 L2028.0,222.4 L2032.5,229.2 L2035.5,222.3 L2038.5,218.7 L2043.0,212.7 L2046.0,214.4 L2049.0,217.2 L2052.7,219.9 L2056.5,218.7 L2059.5,222.0 L2062.5,224.3 L2065.4,226.2 L2068.4,223.8 L2071.4,218.7 L2074.8,214.9"/>
<path stroke="#B06CE2" d="M295.7,1223.7 L297.3,1229.5 L300.7,1226.0 L304.2,1216.8 L307.1,1205.3 L310.0,1189.2 L312.8,1186.9 L316.0,1188.1 L319.2,1188.0 L321.5,1178.8 L324.4,1168.4 L326.7,1155.8 L330.4,1150.8 L334.1,1144.9 L338.8,1121.8 L343.4,1091.9 L348.0,1068.8 L350.9,1063.5 L353.7,1059.6 L357.2,1036.6 L359.5,1008.9 L364.1,976.7 L367.0,966.4 L369.9,958.2 L374.5,935.2 L377.9,912.2 L381.4,896.0 L386.0,877.6 L390.6,850.0 L393.7,839.2 L396.7,829.0 L399.8,817.9 L404.4,790.2 L407.9,769.5 L412.5,755.7 L417.1,741.8 L420.6,693.5 L423.3,670.4 L427.5,665.8 L430.9,679.6 L433.8,683.6 L436.7,687.7 L441.3,684.2 L444.7,661.2 L448.2,628.9 L452.8,607.1 L457.4,610.5 L462.0,596.7 L466.6,578.2 L470.1,574.0 L473.5,571.3 L477.0,560.7 L480.5,550.6 L483.9,546.6 L487.4,539.1 L492.0,536.8 L496.6,526.4 L500.6,515.0 L504.7,506.8 L507.5,504.6 L510.4,499.9 L513.9,484.4 L517.3,467.6 L521.9,456.1 L524.8,457.3 L527.7,457.3 L528.8,451.7 L531.9,451.9 L535.0,449.5 L538.1,449.4 L541.5,443.5 L545.0,437.9 L548.4,432.0 L551.9,421.8 L556.5,437.9 L560.0,431.7 L563.4,426.4 L566.9,420.1 L570.3,414.8 L573.8,411.4 L577.2,411.4 L580.7,414.9 L584.1,419.4 L587.0,413.4 L589.9,405.6 L593.4,403.7 L596.8,398.7 L599.7,392.6 L602.6,384.9 L607.2,379.1 L610.1,387.4 L612.9,394.1 L615.8,389.0 L618.7,382.6 L622.2,378.4 L625.6,373.4 L630.2,379.1 L633.7,376.3 L637.1,371.1 L640.6,369.7 L644.1,368.8 L647.5,370.6 L651.0,369.9 L654.4,364.6 L657.9,359.5 L661.3,357.6 L664.8,359.5 L669.4,361.8 L672.3,352.8 L675.2,346.9 L678.7,351.3 L682.5,352.5 L686.2,354.2 L689.0,352.7 L691.8,352.3 L696.0,345.7 L700.2,342.0 L704.4,342.5 L708.6,344.8 L711.9,342.2 L715.2,339.2 L718.5,339.2 L721.7,338.3 L725.0,341.1 L728.3,342.0 L732.5,338.2 L736.7,336.4 L739.5,331.7 L742.3,326.1 L745.1,329.7 L747.9,330.8 L750.7,333.1 L753.5,334.5 L756.4,331.0 L759.2,323.3 L762.0,325.1 L764.8,328.0 L767.9,324.8 L771.0,321.9 L774.1,318.6 L777.9,320.9 L781.6,324.2 L784.9,323.7 L788.2,323.3 L791.0,319.4 L793.8,314.9 L798.4,318.6 L801.3,319.5 L804.1,320.5 L808.3,314.7 L812.5,310.2 L816.7,311.1 L820.9,313.0 L825.6,318.6 L828.7,314.5 L831.8,308.7 L834.9,306.4 L839.6,313.9 L844.3,321.4 L849.0,306.4 L852.4,305.4 L855.8,302.7 L859.3,302.7 L862.5,306.6 L865.8,311.1 L870.5,313.0 L873.8,304.2 L877.0,298.0 L879.8,299.6 L882.6,300.8 L885.9,301.8 L889.2,303.6 L892.5,297.7 L895.7,292.4 L899.0,287.8 L902.3,284.9 L906.0,285.9 L908.8,290.2 L911.6,294.3 L914.9,293.4 L918.2,288.7 L921.0,285.6 L923.8,286.8 L927.5,284.1 L931.3,280.3 L934.4,280.5 L937.5,279.8 L940.6,280.3 L944.8,280.2 L949.1,283.1 L953.3,282.1 L957.5,277.4 L960.6,278.3 L963.7,279.9 L966.8,279.3 L970.6,277.0 L974.3,275.6 L978.1,276.6 L981.8,279.3 L985.5,278.7 L989.3,275.6 L992.1,278.8 L994.9,280.3 L998.6,272.0 L1002.4,264.3 L1007.1,265.3 L1011.7,270.9 L1015.5,270.2 L1019.2,270.0 L1023.0,269.3 L1026.7,267.2 L1030.4,265.8 L1034.2,266.2 L1037.9,264.8 L1041.7,265.3 L1044.9,268.0 L1048.2,270.9 L1052.1,266.9 L1055.9,260.5 L1059.6,263.9 L1063.4,265.2 L1067.1,261.7 L1070.9,257.7 L1074.0,261.2 L1077.1,261.3 L1080.2,263.3 L1083.5,259.5 L1086.8,256.8 L1090.5,262.4 L1094.3,262.4 L1098.5,259.0 L1102.7,256.8 L1106.4,259.7 L1110.2,261.8 L1113.9,263.3 L1117.2,261.6 L1120.4,259.6 L1124.7,257.1 L1128.9,254.0 L1133.5,257.7 L1136.4,256.7 L1139.2,254.0 L1142.0,251.8 L1144.8,248.4 L1147.9,249.9 L1151.0,252.8 L1154.1,254.9 L1157.2,255.6 L1160.4,253.9 L1163.5,252.1 L1167.2,250.7 L1171.0,250.3 L1174.7,249.3 L1178.4,245.4 L1182.2,243.7 L1185.5,242.4 L1188.7,243.6 L1192.0,246.3 L1195.3,244.6 L1198.4,245.5 L1201.5,245.5 L1204.6,249.3 L1207.8,249.5 L1210.9,249.2 L1214.0,250.3 L1217.3,248.8 L1220.5,245.6 L1223.8,247.0 L1227.1,245.6 L1230.4,246.6 L1233.6,248.5 L1236.9,248.8 L1240.2,251.2 L1243.9,249.8 L1247.7,245.6 L1251.4,243.8 L1255.2,243.7 L1258.4,241.4 L1261.7,239.0 L1264.8,242.8 L1267.9,239.8 L1271.1,241.8 L1275.3,240.6 L1279.5,239.0 L1282.6,241.8 L1285.7,245.2 L1288.8,247.4 L1292.3,244.6 L1295.7,242.3 L1299.1,237.2 L1302.4,239.6 L1305.7,240.9 L1309.4,240.7 L1313.2,239.0 L1316.9,240.9 L1320.6,245.6 L1324.8,241.9 L1329.1,237.2 L1332.3,236.6 L1335.6,239.0 L1339.3,240.9 L1343.1,240.0 L1345.9,239.0 L1348.7,238.1 L1351.5,236.9 L1354.3,233.4 L1358.1,239.0 L1361.8,240.3 L1365.5,242.8 L1369.3,240.2 L1373.0,237.2 L1376.1,238.5 L1379.3,240.3 L1382.4,240.9 L1385.5,239.9 L1388.6,238.4 L1391.7,238.1 L1395.5,236.3 L1399.2,235.3 L1403.0,232.2 L1406.7,230.6 L1409.8,232.4 L1412.9,234.8 L1416.1,239.0 L1419.2,236.1 L1422.3,238.8 L1425.4,235.3 L1428.6,234.6 L1431.8,234.4 L1435.0,235.9 L1438.7,238.9 L1442.5,239.6 L1445.6,237.8 L1448.7,235.1 L1451.8,233.1 L1456.0,235.3 L1460.2,234.9 L1463.3,239.0 L1466.5,237.7 L1469.6,240.5 L1472.4,241.8 L1475.2,239.6 L1479.4,235.6 L1483.6,230.3 L1486.4,231.2 L1489.2,229.3 L1493.0,231.5 L1496.7,234.9 L1499.8,236.9 L1502.9,236.3 L1506.1,234.9 L1508.9,232.9 L1511.7,236.8 L1514.5,237.8 L1517.3,235.9 L1520.6,233.2 L1523.8,227.4 L1527.3,227.4 L1530.7,231.0 L1534.1,232.1 L1537.4,231.5 L1540.7,231.5 L1543.9,229.7 L1547.2,230.3 L1551.0,231.3 L1554.7,231.8 L1558.4,231.2 L1562.2,230.2 L1565.9,229.3 L1569.7,228.4 L1572.8,228.3 L1575.9,232.8 L1579.0,234.0 L1582.8,232.8 L1586.5,234.5 L1590.3,233.8 L1594.0,234.9 L1597.1,236.1 L1600.2,231.2 L1603.3,229.3 L1607.1,229.9 L1610.8,226.8 L1614.6,225.6 L1617.7,226.8 L1620.8,228.9 L1623.9,229.3 L1627.7,228.1 L1631.4,229.6 L1635.2,225.6 L1638.9,227.6 L1642.6,231.9 L1646.4,232.1 L1649.5,226.1 L1652.6,221.7 L1655.7,218.1 L1659.5,222.1 L1663.2,224.6 L1667.0,223.0 L1670.7,224.6 L1674.0,230.7 L1677.2,232.1 L1680.7,231.5 L1684.1,229.7 L1687.5,228.4 L1691.3,230.8 L1695.0,228.4 L1698.8,229.3 L1701.9,226.3 L1705.0,221.9 L1708.1,222.8 L1711.9,220.2 L1715.6,221.8 L1719.3,221.8 L1722.5,221.0 L1725.6,225.9 L1728.7,226.5 L1731.8,230.8 L1734.9,233.3 L1738.1,235.9 L1741.2,232.1 L1744.3,231.1 L1747.4,230.3 L1750.5,226.5 L1753.6,226.7 L1756.8,223.7 L1759.9,227.7 L1763.0,229.1 L1766.1,232.1 L1769.4,232.7 L1772.7,233.3 L1775.9,234.4 L1779.2,234.0 L1783.0,228.7 L1786.7,225.6 L1790.4,224.2 L1794.2,225.9 L1797.9,224.6 L1801.4,227.7 L1804.8,230.1 L1808.3,232.0 L1811.7,234.4 L1815.1,232.3 L1818.4,228.4 L1822.2,227.9 L1825.9,226.2 L1829.7,225.5 L1833.4,226.2 L1837.2,229.7 L1840.9,229.2 L1844.9,231.5 L1848.9,230.9 L1852.9,232.2 L1856.4,231.6 L1859.9,230.3 L1863.4,230.7 L1866.3,224.2 L1869.3,220.9 L1873.1,222.3 L1876.8,226.2 L1880.6,223.7 L1884.3,224.7 L1887.3,226.2 L1890.3,229.2 L1893.8,228.3 L1897.3,226.6 L1900.8,225.4 L1904.5,229.4 L1908.3,236.6 L1911.3,231.2 L1914.3,226.2 L1918.7,222.4 L1922.5,227.3 L1926.2,233.7 L1930.0,230.9 L1933.7,230.7 L1936.7,230.9 L1939.7,228.4 L1943.4,224.9 L1947.2,223.9 L1950.2,224.6 L1953.2,223.2 L1956.2,223.7 L1959.2,228.5 L1962.2,230.7 L1965.1,231.8 L1968.1,235.8 L1971.1,236.6 L1974.9,234.1 L1978.6,230.7 L1982.4,227.9 L1986.1,226.9 L1989.9,230.3 L1993.6,232.2 L1997.3,235.9 L2001.1,236.6 L2004.1,237.2 L2007.1,236.4 L2010.1,233.7 L2013.1,232.5 L2016.0,234.7 L2019.0,231.4 L2022.0,229.6 L2025.0,229.2 L2029.1,236.1 L2033.3,243.4 L2038.5,232.2 L2043.0,223.2 L2046.7,224.7 L2050.5,229.9 L2053.5,228.2 L2056.5,226.9 L2059.5,230.2 L2062.5,237.0 L2065.4,241.9 L2068.4,235.0 L2071.4,232.2 L2074.8,229.2"/>
<path stroke="#CB9A06" d="M295.7,1313.6 L297.3,1305.5 L300.2,1303.2 L303.6,1300.9 L307.1,1303.2 L309.4,1299.8 L312.3,1288.2 L316.9,1271.0 L320.3,1261.8 L324.9,1257.1 L327.2,1242.2 L329.5,1228.3 L333.0,1214.5 L336.5,1209.9 L339.9,1190.3 L342.8,1170.7 L345.7,1155.8 L350.3,1142.6 L353.7,1126.5 L357.2,1096.5 L360.6,1064.2 L363.5,1055.1 L366.4,1045.8 L371.0,1027.4 L374.5,999.7 L377.9,962.9 L382.5,942.1 L386.0,930.6 L389.4,919.1 L392.9,889.1 L396.4,866.1 L399.8,843.0 L403.3,828.1 L406.7,813.3 L409.6,806.0 L412.5,799.4 L415.4,783.4 L418.2,767.2 L422.9,761.4 L427.5,721.1 L432.1,708.4 L436.7,707.3 L441.3,716.5 L445.9,688.8 L448.8,675.6 L451.7,662.4 L454.5,660.6 L457.4,657.7 L460.9,660.0 L465.5,619.7 L470.1,610.5 L474.7,614.0 L477.6,604.8 L480.5,596.7 L483.9,588.3 L487.4,573.6 L490.3,564.0 L493.1,562.1 L496.0,561.0 L498.9,559.8 L503.5,558.7 L508.1,543.7 L512.7,532.2 L517.3,509.1 L520.2,505.0 L523.1,498.8 L527.7,508.0 L530.6,497.9 L533.5,488.4 L536.3,482.3 L539.2,478.0 L542.1,476.8 L545.0,475.7 L548.8,473.1 L552.7,470.3 L556.5,465.3 L560.3,460.0 L564.2,458.7 L568.0,455.0 L570.9,451.4 L573.8,449.4 L576.7,455.9 L579.5,459.8 L582.4,449.3 L585.3,440.2 L588.2,436.9 L591.1,433.3 L595.7,440.2 L599.1,424.2 L602.6,405.6 L606.0,412.1 L609.5,419.4 L612.9,417.4 L616.4,414.8 L619.9,408.0 L623.3,403.3 L626.8,401.7 L630.2,401.0 L633.7,400.8 L637.1,405.6 L640.6,405.0 L644.1,406.8 L647.5,403.1 L651.0,401.0 L654.4,392.0 L657.9,384.9 L662.5,381.4 L667.1,387.2 L670.6,383.4 L674.0,374.5 L676.8,372.1 L679.6,375.7 L682.5,377.0 L685.3,384.1 L688.1,380.5 L690.9,376.6 L695.5,372.9 L698.8,367.9 L702.1,361.6 L706.3,369.7 L710.5,377.5 L713.6,378.2 L716.8,378.8 L719.9,375.7 L723.6,369.4 L727.4,364.4 L730.2,358.9 L733.0,357.0 L734.8,364.4 L738.6,359.4 L742.3,355.1 L746.1,351.3 L750.3,360.7 L754.5,367.2 L758.7,361.6 L762.9,355.1 L766.0,351.9 L769.1,349.8 L772.3,346.7 L776.9,343.9 L779.7,347.9 L782.5,351.3 L786.6,346.6 L790.7,346.8 L794.7,343.9 L798.4,346.5 L802.2,351.3 L805.9,350.0 L809.7,349.5 L812.8,345.3 L815.9,342.6 L819.0,339.2 L822.8,339.3 L826.5,337.0 L830.3,336.4 L833.1,336.9 L835.9,337.3 L840.1,340.7 L844.3,342.0 L848.3,338.7 L852.4,333.6 L856.4,330.8 L859.3,330.3 L862.1,328.0 L865.8,330.2 L869.5,333.6 L873.3,327.5 L877.0,322.3 L880.5,325.0 L883.9,329.1 L887.3,329.8 L891.5,322.6 L895.7,317.7 L899.5,313.3 L903.2,310.2 L906.3,311.5 L909.5,311.5 L912.6,313.9 L915.8,314.9 L919.1,317.3 L922.4,314.4 L925.7,317.7 L928.8,315.7 L931.9,312.9 L935.0,312.1 L938.1,313.0 L941.3,309.6 L944.4,307.4 L948.1,309.4 L951.9,310.2 L955.6,307.6 L959.3,305.5 L962.5,306.0 L965.6,309.3 L968.7,311.1 L971.8,308.7 L974.9,305.5 L978.1,302.7 L981.8,304.2 L985.5,302.3 L989.3,300.8 L993.0,299.2 L996.8,299.9 L1000.5,297.9 L1004.2,297.1 L1008.0,301.6 L1011.7,305.5 L1015.5,300.5 L1019.2,298.3 L1023.0,295.2 L1026.1,295.3 L1029.2,297.2 L1032.3,298.0 L1036.1,299.0 L1039.8,299.0 L1043.5,300.8 L1047.4,300.9 L1051.2,298.0 L1054.0,293.9 L1056.8,291.4 L1060.1,294.0 L1063.4,295.2 L1068.1,290.5 L1071.8,287.7 L1075.5,287.7 L1078.8,287.8 L1082.1,290.5 L1084.9,287.3 L1087.7,285.8 L1091.0,289.0 L1094.3,293.3 L1097.4,292.7 L1100.5,288.2 L1103.6,288.6 L1107.4,289.3 L1111.1,284.5 L1114.8,284.9 L1118.6,285.7 L1122.3,283.0 L1126.1,285.0 L1129.8,286.7 L1133.5,283.7 L1137.3,282.1 L1141.0,281.6 L1144.8,279.3 L1148.5,277.2 L1152.3,276.4 L1156.0,278.7 L1159.7,281.1 L1163.5,278.8 L1167.2,276.4 L1171.0,281.4 L1174.7,279.3 L1178.4,274.2 L1182.2,271.8 L1185.9,273.6 L1189.7,270.8 L1193.4,271.8 L1197.2,273.6 L1200.3,275.5 L1203.4,278.6 L1206.5,282.1 L1210.3,280.3 L1214.0,275.5 L1217.7,273.6 L1221.5,271.3 L1225.2,270.8 L1228.5,275.7 L1231.8,279.3 L1236.0,277.2 L1240.2,274.6 L1243.9,273.5 L1247.7,269.9 L1251.4,267.9 L1255.2,269.0 L1258.3,270.1 L1261.4,269.1 L1264.5,267.1 L1268.3,266.1 L1272.0,267.1 L1275.7,269.4 L1279.5,272.7 L1282.6,273.2 L1285.7,272.3 L1288.8,272.7 L1291.9,272.4 L1295.1,270.8 L1298.2,269.0 L1301.9,267.9 L1305.7,267.1 L1308.8,265.9 L1311.9,265.1 L1315.0,268.0 L1318.8,272.0 L1322.5,275.5 L1325.6,271.4 L1328.7,271.8 L1331.9,268.0 L1335.6,265.9 L1339.3,259.6 L1342.5,261.2 L1345.6,263.7 L1348.7,264.3 L1351.8,265.7 L1354.9,265.2 L1358.1,264.3 L1361.2,264.4 L1364.3,266.1 L1367.4,269.0 L1370.5,266.7 L1373.6,265.9 L1376.8,264.3 L1379.9,264.1 L1383.0,266.3 L1386.1,267.1 L1389.2,267.4 L1392.4,264.0 L1395.5,263.3 L1399.2,262.0 L1403.0,259.5 L1406.7,259.6 L1410.4,262.2 L1414.2,265.2 L1417.3,264.7 L1420.4,263.7 L1423.5,260.5 L1426.7,260.9 L1429.9,259.9 L1433.1,261.1 L1436.2,264.7 L1439.3,261.0 L1442.5,264.9 L1445.6,263.3 L1448.7,261.9 L1451.8,262.1 L1454.9,262.6 L1458.0,263.9 L1461.2,263.9 L1464.9,261.9 L1468.6,261.1 L1472.4,266.9 L1476.1,263.9 L1479.2,266.1 L1482.4,264.3 L1485.5,263.0 L1489.2,259.0 L1493.0,256.4 L1496.7,255.9 L1500.4,259.3 L1503.6,260.3 L1506.7,259.6 L1509.8,258.3 L1513.5,260.1 L1517.3,262.5 L1521.0,262.1 L1524.3,262.4 L1527.6,259.7 L1530.9,258.9 L1534.1,261.1 L1537.9,259.0 L1541.6,258.1 L1545.4,256.4 L1549.1,259.0 L1552.8,260.5 L1556.6,262.1 L1560.3,259.6 L1564.1,256.6 L1567.8,255.5 L1571.5,258.0 L1575.3,259.3 L1578.6,260.1 L1581.8,258.4 L1585.1,258.0 L1588.4,259.3 L1591.5,259.0 L1594.6,258.5 L1597.7,260.2 L1600.9,258.8 L1604.0,255.5 L1607.1,255.5 L1610.8,255.8 L1614.6,254.4 L1618.3,255.5 L1621.4,255.1 L1624.6,256.6 L1627.7,252.7 L1631.4,253.1 L1635.2,256.4 L1638.3,255.6 L1641.4,257.5 L1644.5,253.6 L1647.6,253.8 L1650.7,251.9 L1653.9,250.8 L1657.6,251.4 L1661.3,250.4 L1665.1,250.8 L1668.8,250.8 L1672.6,251.2 L1676.3,256.4 L1680.1,254.8 L1683.8,254.3 L1687.5,254.6 L1691.3,256.2 L1695.0,255.4 L1698.8,255.5 L1701.9,251.9 L1705.0,252.9 L1708.1,250.8 L1711.2,249.2 L1714.4,252.2 L1717.5,250.8 L1721.2,252.2 L1725.0,256.4 L1728.7,256.2 L1732.4,254.0 L1736.2,252.7 L1739.9,254.8 L1743.7,258.3 L1746.9,258.9 L1750.2,256.5 L1753.5,253.0 L1756.8,255.5 L1759.9,256.2 L1763.0,254.8 L1766.1,256.4 L1769.9,256.4 L1773.6,257.9 L1777.3,258.3 L1780.5,257.6 L1783.6,255.3 L1786.7,253.6 L1790.4,253.8 L1794.2,255.8 L1797.9,258.3 L1801.8,256.0 L1805.6,256.4 L1809.5,256.1 L1813.2,252.9 L1816.9,251.6 L1819.9,254.7 L1822.9,255.1 L1825.9,258.4 L1830.4,253.1 L1834.9,259.1 L1837.9,259.4 L1840.9,257.6 L1843.9,257.3 L1846.9,253.1 L1849.9,250.1 L1852.9,250.8 L1855.9,253.5 L1858.9,253.1 L1862.4,250.7 L1865.8,250.4 L1869.3,249.4 L1872.7,255.4 L1876.1,258.4 L1880.2,257.5 L1884.3,255.4 L1888.1,253.2 L1891.8,251.6 L1895.5,253.4 L1899.3,256.1 L1903.4,258.0 L1907.5,261.3 L1910.9,259.0 L1914.3,253.1 L1918.7,248.6 L1922.5,253.6 L1926.2,253.9 L1929.2,253.4 L1932.2,249.4 L1936.0,250.1 L1939.7,250.9 L1944.2,258.4 L1947.2,256.4 L1950.2,252.7 L1953.2,251.6 L1956.9,252.4 L1960.7,256.1 L1963.7,257.8 L1966.6,258.8 L1969.6,259.1 L1973.1,256.4 L1976.6,255.4 L1980.1,256.1 L1983.9,251.9 L1987.6,247.1 L1990.6,249.1 L1993.6,254.6 L1996.6,258.1 L1999.6,259.1 L2002.6,259.0 L2005.6,254.6 L2008.6,254.6 L2012.3,253.0 L2016.0,252.4 L2019.8,255.3 L2023.5,256.1 L2026.9,262.5 L2030.3,266.6 L2033.6,260.5 L2037.0,254.6 L2040.7,252.5 L2044.5,250.9 L2047.5,251.5 L2050.5,253.1 L2053.5,256.3 L2056.5,258.4 L2059.5,258.7 L2062.5,257.5 L2065.4,257.6 L2068.4,255.7 L2071.4,255.4 L2074.8,262.1"/>
<path stroke="#05C9CB" d="M295.7,516.0 L300.7,525.3 L304.9,536.8 L308.8,504.5 L312.3,495.3 L316.9,488.4 L321.0,495.3 L324.9,506.8 L328.4,488.4 L331.8,501.1 L336.5,489.5 L341.1,465.3 L345.7,452.7 L349.1,468.8 L354.2,443.5 L359.5,435.4 L362.6,442.5 L365.7,450.4 L368.7,419.4 L373.3,392.9 L377.9,414.8 L382.5,432.1 L387.1,424.1 L390.6,404.9 L394.1,384.9 L397.5,387.2 L402.1,388.3 L405.6,383.7 L409.5,372.2 L412.5,383.7 L415.9,379.1 L420.6,375.7 L425.2,369.9 L428.6,344.6 L430.9,346.9 L434.4,368.8 L437.8,398.7 L441.3,431.0 L445.9,391.8 L448.8,378.6 L451.7,366.5 L455.1,371.1 L457.4,361.8 L462.0,356.1 L465.5,366.5 L470.1,384.9 L474.7,380.3 L477.6,365.6 L480.5,350.3 L485.1,344.6 L489.7,346.9 L492.6,344.8 L495.4,345.7 L498.3,341.5 L501.2,335.3 L504.1,332.9 L507.0,330.7 L510.4,338.8 L515.0,322.7 L519.6,311.2 L524.2,325.0 L528.4,334.2 L533.5,315.8 L536.9,311.7 L540.4,304.2 L543.8,303.5 L547.3,300.8 L550.2,299.1 L553.0,297.3 L557.6,304.2 L562.3,290.4 L565.1,287.2 L568.0,284.7 L572.6,290.4 L577.2,281.2 L581.8,299.6 L584.7,291.0 L587.6,281.2 L591.1,274.3 L593.9,282.3 L596.8,290.4 L599.7,281.3 L602.6,274.3 L606.0,267.4 L608.9,273.9 L611.8,278.9 L614.7,281.2 L617.6,289.3 L620.4,285.2 L623.3,281.2 L626.2,281.4 L629.1,276.6 L632.0,276.1 L634.8,274.3 L639.4,280.0 L644.1,276.6 L647.5,272.6 L651.0,272.0 L654.4,271.0 L657.9,267.4 L661.3,269.3 L664.8,270.8 L668.2,264.9 L671.7,260.5 L676.8,255.9 L681.5,267.2 L686.2,279.3 L690.9,263.4 L694.1,259.9 L697.4,257.8 L700.7,256.1 L704.0,254.1 L708.2,260.2 L712.4,264.3 L716.1,263.3 L719.9,262.5 L723.0,260.2 L726.1,253.0 L729.2,249.4 L732.0,253.2 L734.8,255.0 L738.6,247.1 L742.3,242.8 L745.1,238.2 L747.9,238.2 L751.7,247.4 L755.4,256.9 L759.2,253.0 L762.9,248.4 L766.6,245.1 L770.4,237.2 L774.1,238.2 L777.9,242.9 L781.6,248.4 L784.4,243.2 L787.2,237.2 L790.0,231.6 L792.8,228.8 L795.6,234.0 L798.4,239.1 L801.3,240.7 L804.1,241.0 L807.8,238.6 L811.5,237.2 L815.3,237.1 L819.0,234.4 L822.8,238.0 L826.5,238.2 L829.3,237.5 L832.1,235.4 L835.9,238.1 L839.6,241.0 L843.3,239.8 L847.1,239.1 L850.8,238.5 L854.6,236.3 L857.4,232.8 L860.2,231.6 L863.0,236.5 L865.8,239.1 L870.5,243.8 L873.8,236.1 L877.0,229.7 L880.1,232.9 L883.3,234.1 L886.4,238.2 L890.1,232.9 L893.9,229.7 L897.0,227.9 L900.1,228.5 L903.2,226.9 L907.0,228.4 L910.7,229.7 L914.4,226.6 L918.2,223.2 L921.9,225.8 L925.7,226.0 L930.3,218.5 L933.2,220.3 L936.0,224.1 L940.6,230.7 L943.4,227.6 L946.2,222.3 L950.0,220.2 L953.7,219.4 L956.9,218.7 L960.0,219.5 L963.1,220.4 L967.3,225.9 L971.5,228.8 L974.8,228.9 L978.1,225.1 L981.2,223.8 L984.3,222.6 L987.4,223.2 L991.2,220.9 L994.9,222.3 L998.6,219.5 L1002.4,216.6 L1005.2,218.6 L1008.0,219.4 L1010.8,224.6 L1013.6,228.8 L1017.3,224.0 L1021.1,218.5 L1024.8,219.7 L1028.6,217.6 L1031.7,218.6 L1034.8,220.0 L1037.9,220.4 L1041.7,221.5 L1045.4,223.2 L1049.3,219.2 L1053.1,217.5 L1056.8,214.9 L1060.6,217.5 L1064.3,217.1 L1068.1,216.6 L1071.3,212.1 L1074.6,209.1 L1078.4,212.7 L1082.1,217.5 L1085.4,214.9 L1088.6,213.8 L1091.8,215.7 L1094.9,217.7 L1098.0,219.4 L1101.7,216.3 L1105.5,218.4 L1109.7,216.6 L1113.9,215.6 L1118.1,214.3 L1122.3,211.9 L1125.6,210.0 L1128.9,207.2 L1132.1,209.8 L1135.4,212.8 L1139.2,211.6 L1142.9,210.0 L1146.0,206.6 L1149.1,207.3 L1152.3,205.4 L1156.5,209.7 L1160.7,214.7 L1164.9,212.4 L1169.1,210.0 L1173.3,210.3 L1177.5,209.1 L1181.3,205.0 L1185.0,200.7 L1188.3,201.7 L1191.5,205.4 L1194.3,201.6 L1197.2,202.5 L1200.9,206.2 L1204.6,211.0 L1208.4,208.1 L1212.1,205.4 L1215.9,204.7 L1219.6,203.5 L1223.3,205.2 L1227.1,204.4 L1230.8,205.3 L1234.6,205.4 L1237.8,207.6 L1241.1,209.1 L1244.4,204.6 L1247.7,204.4 L1250.5,206.7 L1253.3,207.2 L1257.0,204.6 L1260.8,201.6 L1264.5,203.6 L1268.3,200.7 L1272.0,202.1 L1275.7,201.6 L1279.5,201.6 L1283.2,203.5 L1287.0,205.0 L1290.7,206.3 L1294.4,205.2 L1298.2,202.5 L1301.0,203.8 L1303.8,207.2 L1307.5,201.5 L1311.3,199.7 L1314.1,201.2 L1316.9,201.6 L1320.2,203.3 L1323.4,206.3 L1327.7,204.2 L1331.9,202.5 L1335.6,200.8 L1339.3,198.8 L1343.1,203.1 L1346.8,208.2 L1349.6,204.9 L1352.4,199.7 L1355.2,197.3 L1358.1,194.1 L1361.8,197.7 L1365.5,200.7 L1369.3,202.2 L1373.0,201.6 L1376.1,200.9 L1379.3,198.9 L1382.4,199.7 L1385.5,199.7 L1388.6,198.2 L1391.7,199.7 L1395.5,199.4 L1399.2,197.1 L1403.0,197.9 L1406.7,198.2 L1410.4,200.0 L1414.2,198.8 L1417.9,201.0 L1421.7,201.6 L1424.9,199.3 L1428.0,197.2 L1431.2,197.5 L1434.5,197.0 L1437.8,198.7 L1441.0,198.2 L1444.3,197.5 L1447.6,195.5 L1450.9,198.1 L1454.1,197.2 L1457.4,196.6 L1461.5,199.0 L1465.5,201.4 L1469.6,201.3 L1472.9,198.9 L1476.1,198.4 L1479.9,199.6 L1483.6,199.4 L1486.7,197.1 L1489.8,195.7 L1493.0,191.9 L1496.7,193.9 L1500.4,196.6 L1503.7,194.0 L1507.0,194.9 L1510.3,195.0 L1513.5,192.8 L1517.3,192.2 L1521.0,191.9 L1524.8,191.9 L1528.5,192.4 L1532.3,192.4 L1536.0,192.8 L1539.1,193.6 L1542.2,194.8 L1545.4,196.6 L1548.5,196.5 L1551.6,192.3 L1554.7,191.0 L1558.4,192.1 L1562.2,194.2 L1565.9,193.8 L1569.7,193.9 L1573.4,189.3 L1577.2,190.0 L1580.3,192.3 L1583.4,194.8 L1586.5,199.4 L1591.2,198.4 L1595.9,191.0 L1599.6,191.1 L1603.3,188.9 L1607.1,191.9 L1610.2,189.0 L1613.3,189.3 L1616.4,188.2 L1619.6,190.5 L1622.7,190.5 L1625.8,193.8 L1628.9,192.8 L1632.0,192.8 L1635.2,190.0 L1638.3,187.4 L1641.4,188.5 L1644.5,185.4 L1647.6,186.9 L1650.7,185.9 L1653.9,190.0 L1657.0,189.9 L1660.1,189.6 L1663.2,189.1 L1666.3,192.1 L1669.5,190.8 L1672.6,192.8 L1676.3,195.0 L1680.1,192.8 L1683.8,192.8 L1686.9,192.3 L1690.0,190.1 L1693.2,189.1 L1696.3,188.5 L1699.4,188.1 L1702.5,185.4 L1705.6,186.0 L1708.7,186.0 L1711.9,187.2 L1715.6,188.0 L1719.3,186.9 L1723.1,187.2 L1727.3,189.9 L1731.5,191.9 L1734.9,194.1 L1738.4,194.0 L1741.8,194.7 L1745.5,193.0 L1749.3,190.6 L1753.0,188.2 L1756.8,191.4 L1760.5,195.5 L1764.2,197.5 L1767.5,198.5 L1770.8,197.0 L1774.1,194.1 L1777.3,195.6 L1781.1,188.8 L1784.8,185.4 L1788.6,190.1 L1792.3,192.8 L1795.4,193.1 L1798.5,191.3 L1801.7,188.2 L1806.5,189.5 L1811.0,194.0 L1814.7,190.1 L1818.4,187.2 L1822.2,185.7 L1825.9,183.5 L1829.7,182.5 L1833.4,182.8 L1836.4,187.4 L1839.4,191.0 L1843.1,188.7 L1846.9,186.5 L1849.9,186.5 L1852.9,188.7 L1855.9,191.0 L1858.9,191.7 L1861.9,190.3 L1864.9,188.7 L1869.3,182.8 L1873.1,187.2 L1876.8,186.5 L1879.8,189.8 L1882.8,190.2 L1887.3,194.0 L1890.3,190.3 L1893.3,190.2 L1896.3,187.6 L1899.3,182.8 L1902.3,184.0 L1905.3,187.2 L1909.8,189.5 L1913.5,185.1 L1917.2,182.0 L1920.2,184.8 L1923.2,188.0 L1926.2,182.4 L1929.2,179.8 L1933.0,185.7 L1936.7,184.3 L1939.7,187.2 L1942.7,188.0 L1945.7,185.9 L1948.7,185.7 L1951.7,183.4 L1954.7,178.3 L1957.7,176.3 L1960.7,179.8 L1963.7,185.0 L1966.6,187.2 L1969.6,189.4 L1972.6,191.6 L1975.6,193.2 L1980.1,185.7 L1983.1,184.7 L1986.1,181.3 L1989.1,182.1 L1992.1,183.0 L1995.1,182.8 L1998.8,181.3 L2002.6,182.0 L2006.3,182.2 L2010.1,181.3 L2013.8,179.9 L2017.5,179.0 L2020.5,179.7 L2023.5,179.0 L2026.5,184.8 L2029.5,191.0 L2033.3,189.0 L2037.0,185.7 L2040.7,182.6 L2044.5,180.5 L2048.2,180.2 L2052.0,182.8 L2055.7,183.1 L2059.5,185.0 L2062.5,184.7 L2065.4,181.8 L2068.4,180.5 L2071.6,182.6 L2074.8,184.3"/>
<path stroke="#7B4549" d="M295.7,1209.9 L298.4,1204.1 L300.7,1189.2 L303.0,1185.7 L305.9,1184.6 L308.2,1173.0 L310.5,1168.4 L313.4,1166.7 L316.9,1163.8 L317.4,1153.5 L320.6,1141.3 L323.8,1131.1 L327.2,1114.9 L331.8,1103.4 L336.5,1085.0 L341.1,1059.6 L345.7,1048.1 L350.3,1041.2 L353.7,1027.4 L354.9,1008.9 L359.5,981.3 L364.1,958.2 L367.6,932.9 L370.3,905.3 L374.0,888.0 L377.7,882.1 L381.4,876.5 L384.8,854.6 L388.3,834.3 L391.8,813.3 L395.2,790.2 L399.8,771.8 L403.3,760.3 L405.6,762.6 L410.2,746.5 L414.8,737.2 L418.2,709.6 L421.7,670.4 L424.0,647.4 L427.9,640.5 L430.9,661.2 L433.8,662.8 L436.7,664.7 L441.3,665.8 L444.2,659.0 L447.1,652.0 L451.7,615.1 L455.1,609.4 L458.6,615.1 L462.0,599.0 L465.5,594.4 L467.8,582.9 L471.2,577.4 L474.7,573.6 L478.2,543.7 L482.8,536.8 L486.9,526.4 L492.0,541.4 L495.4,544.8 L500.0,536.8 L504.7,513.7 L507.5,510.0 L510.4,506.8 L515.0,493.0 L519.6,482.6 L523.1,483.3 L526.5,484.9 L531.2,474.6 L534.6,475.7 L538.1,474.6 L541.5,465.5 L545.0,456.1 L547.9,453.9 L550.7,451.7 L553.6,447.3 L556.5,444.8 L560.0,435.7 L563.4,428.7 L566.9,434.4 L570.3,440.2 L573.8,436.1 L577.2,428.7 L580.7,419.4 L584.1,414.8 L588.8,404.5 L592.2,408.4 L595.7,419.4 L599.1,409.3 L602.6,394.1 L606.0,403.0 L609.5,407.9 L612.9,403.0 L616.4,396.4 L619.9,395.2 L623.3,392.9 L626.8,391.9 L630.2,391.8 L633.7,390.2 L637.1,389.5 L640.6,384.6 L644.1,382.6 L647.5,381.1 L651.0,378.0 L654.4,377.7 L657.9,378.0 L661.3,373.3 L664.8,373.4 L668.2,369.9 L671.7,367.6 L676.8,367.2 L681.0,369.9 L685.3,373.8 L689.9,365.4 L693.7,369.1 L697.4,360.8 L701.2,354.2 L704.0,355.2 L706.8,351.3 L710.5,357.0 L714.3,359.8 L718.5,361.9 L722.7,371.9 L725.5,365.1 L728.3,357.0 L731.1,355.5 L733.9,351.3 L738.6,353.2 L741.9,350.2 L745.1,343.9 L748.4,349.6 L751.7,353.2 L754.5,349.8 L757.3,351.3 L760.6,353.4 L763.8,353.2 L767.3,348.7 L770.7,345.8 L774.1,339.2 L777.9,340.3 L781.6,340.1 L785.4,334.5 L789.1,332.6 L793.8,328.0 L797.0,338.8 L800.3,344.8 L804.1,340.5 L807.8,339.2 L811.1,337.8 L814.3,333.6 L818.6,333.2 L822.8,331.7 L826.0,329.2 L829.3,328.0 L833.5,327.9 L837.7,333.6 L841.0,330.2 L844.3,328.9 L847.7,326.2 L851.1,325.6 L854.6,324.2 L857.8,323.1 L861.1,322.3 L865.3,326.3 L869.5,326.1 L873.8,320.6 L878.0,313.9 L881.1,318.9 L884.2,319.4 L887.3,324.2 L891.5,318.1 L895.7,313.0 L899.5,311.4 L903.2,307.4 L906.3,310.5 L909.5,312.0 L912.6,313.0 L915.7,312.2 L918.8,311.1 L921.9,312.1 L925.2,312.9 L928.5,308.4 L931.7,307.4 L935.0,306.4 L938.1,308.4 L941.3,306.6 L944.4,306.4 L948.1,303.8 L951.9,303.8 L955.6,300.8 L958.9,302.0 L962.2,305.3 L965.4,304.9 L968.7,306.4 L971.8,303.2 L974.9,305.2 L978.1,299.9 L981.2,300.9 L984.3,298.9 L987.4,298.0 L991.2,299.8 L994.9,301.8 L998.2,294.5 L1001.4,290.5 L1004.2,289.4 L1007.1,289.6 L1010.3,293.2 L1013.6,299.9 L1017.8,294.0 L1022.0,285.9 L1026.7,284.9 L1029.5,290.7 L1032.3,293.3 L1036.1,291.7 L1039.8,290.2 L1043.5,289.6 L1046.9,290.3 L1050.2,290.0 L1053.5,290.9 L1056.8,290.5 L1060.1,288.8 L1063.4,285.8 L1066.2,284.0 L1069.0,281.1 L1072.3,284.3 L1075.5,285.8 L1078.7,283.0 L1081.8,283.6 L1084.9,281.1 L1088.3,278.9 L1091.8,281.9 L1095.2,282.1 L1099.4,279.8 L1103.6,278.3 L1106.9,281.6 L1110.2,283.9 L1114.4,281.8 L1118.6,280.2 L1122.8,277.7 L1127.0,274.6 L1130.3,276.0 L1133.5,282.1 L1136.8,278.1 L1140.1,275.5 L1142.9,272.6 L1145.7,271.8 L1149.9,277.4 L1154.1,282.1 L1157.4,280.9 L1160.7,279.3 L1165.4,270.8 L1168.2,271.7 L1171.0,273.6 L1173.8,273.9 L1176.6,275.5 L1180.3,269.4 L1184.1,265.2 L1186.9,264.6 L1189.7,264.3 L1192.5,265.7 L1195.3,266.2 L1198.4,270.8 L1201.5,273.4 L1204.6,277.4 L1208.4,272.7 L1212.1,270.8 L1215.9,267.4 L1219.6,266.2 L1222.7,267.3 L1225.8,265.4 L1229.0,267.1 L1231.8,269.4 L1234.6,272.7 L1237.4,268.3 L1240.2,269.9 L1243.9,268.6 L1247.7,265.2 L1251.4,266.2 L1255.2,267.1 L1258.4,265.3 L1261.7,265.2 L1264.5,267.7 L1267.3,270.8 L1270.6,266.4 L1273.9,260.5 L1277.0,262.5 L1280.1,265.1 L1283.2,267.1 L1287.0,265.2 L1290.7,263.3 L1293.5,259.9 L1296.3,259.6 L1299.1,258.3 L1301.9,261.5 L1304.7,262.2 L1307.5,260.5 L1310.3,262.1 L1313.2,265.2 L1316.9,265.0 L1320.6,263.5 L1324.4,260.5 L1327.2,262.2 L1330.0,265.2 L1333.7,260.6 L1337.5,257.7 L1342.2,255.9 L1345.4,257.9 L1348.7,261.5 L1352.4,262.1 L1356.2,258.7 L1359.3,259.9 L1362.4,260.8 L1365.5,262.4 L1369.3,262.1 L1373.0,259.6 L1376.3,256.5 L1379.6,255.9 L1382.4,256.9 L1385.2,259.6 L1388.5,258.4 L1391.7,258.7 L1395.5,259.5 L1399.2,260.5 L1403.4,255.6 L1407.6,254.0 L1411.8,256.9 L1416.1,261.5 L1419.8,260.2 L1423.5,258.7 L1427.4,257.7 L1431.2,259.3 L1434.7,258.8 L1438.1,261.6 L1441.5,262.1 L1444.8,257.5 L1448.1,255.5 L1451.2,256.4 L1454.3,258.9 L1457.4,259.3 L1460.5,258.7 L1463.7,260.2 L1466.8,257.4 L1470.5,258.1 L1474.3,259.3 L1477.4,256.7 L1480.5,258.4 L1483.6,257.4 L1487.8,254.8 L1492.0,251.8 L1496.2,256.0 L1500.4,258.3 L1504.2,255.1 L1507.9,255.5 L1511.2,256.2 L1514.5,258.7 L1517.8,258.5 L1521.0,259.3 L1524.1,259.1 L1527.3,255.2 L1530.4,254.6 L1534.1,254.5 L1537.9,253.3 L1541.6,252.7 L1545.4,255.6 L1549.1,253.3 L1552.8,255.5 L1556.0,255.4 L1559.1,252.6 L1562.2,250.8 L1565.3,253.1 L1568.4,254.3 L1571.5,257.4 L1575.3,253.7 L1579.0,252.7 L1582.1,252.7 L1585.3,256.8 L1588.4,258.3 L1591.5,254.9 L1594.6,255.3 L1597.7,251.8 L1600.9,251.7 L1604.0,251.1 L1607.1,249.9 L1610.2,250.3 L1613.3,247.9 L1616.4,247.1 L1620.2,250.5 L1623.9,251.8 L1627.7,250.9 L1631.4,253.7 L1635.2,255.5 L1638.3,255.2 L1641.4,252.2 L1644.5,250.8 L1647.6,250.6 L1650.7,246.6 L1653.9,244.3 L1657.6,246.0 L1661.3,249.9 L1665.1,250.7 L1668.8,248.0 L1671.9,249.4 L1675.1,250.2 L1678.2,251.8 L1681.5,251.6 L1684.7,250.8 L1688.0,251.3 L1691.3,251.8 L1694.4,251.8 L1697.5,249.0 L1700.6,249.0 L1704.4,248.7 L1708.1,249.0 L1711.9,244.2 L1715.6,241.5 L1719.3,237.7 L1723.1,243.1 L1726.8,247.1 L1730.6,249.9 L1734.3,251.0 L1738.1,253.6 L1741.8,250.4 L1745.5,249.0 L1748.7,248.7 L1751.8,248.8 L1754.9,247.1 L1758.6,250.2 L1762.4,251.8 L1766.1,251.4 L1769.9,244.3 L1773.6,250.5 L1777.3,256.4 L1780.5,252.7 L1783.6,249.9 L1786.7,247.1 L1789.8,250.2 L1792.9,249.7 L1796.1,252.7 L1799.5,252.4 L1803.0,250.5 L1806.5,252.4 L1809.5,250.3 L1812.5,249.7 L1815.4,247.1 L1819.2,249.5 L1822.9,249.4 L1826.3,249.0 L1829.7,247.1 L1833.8,251.4 L1837.9,253.1 L1841.6,247.7 L1845.4,244.1 L1848.4,249.1 L1851.4,250.1 L1854.4,251.8 L1857.4,247.1 L1860.4,248.6 L1863.4,245.7 L1866.3,246.5 L1869.3,244.1 L1873.1,248.4 L1876.8,250.9 L1879.8,251.8 L1882.8,249.6 L1885.8,248.6 L1889.6,246.3 L1893.3,246.4 L1898.5,242.6 L1901.8,245.0 L1905.0,250.9 L1908.3,252.4 L1912.0,248.6 L1915.7,244.9 L1918.7,242.7 L1921.7,244.7 L1924.7,244.9 L1927.7,245.0 L1930.7,243.4 L1934.5,246.0 L1938.2,248.6 L1941.2,247.5 L1944.2,244.9 L1947.6,244.4 L1950.9,242.6 L1954.3,244.5 L1957.7,246.4 L1960.7,245.5 L1963.7,247.1 L1967.4,251.7 L1971.1,256.1 L1974.1,252.5 L1977.1,247.1 L1980.9,247.5 L1984.6,249.4 L1988.4,248.1 L1992.1,244.1 L1995.8,253.7 L1999.6,258.4 L2003.3,253.3 L2007.1,246.4 L2010.1,245.7 L2013.1,244.1 L2016.0,244.6 L2019.0,244.9 L2022.5,247.6 L2026.0,254.3 L2029.5,256.1 L2032.5,252.7 L2035.5,250.1 L2038.5,248.1 L2041.5,247.9 L2044.5,252.4 L2047.5,252.4 L2050.5,251.0 L2053.5,247.1 L2057.0,248.9 L2060.5,252.5 L2064.0,254.6 L2066.9,253.6 L2069.9,251.6 L2074.8,251.6"/>
</g>
<rect x="454.5" y="959.0" width="1033.2" height="467.6" fill="#fff" stroke="#5a5a5a" stroke-width="3"/>
<g font-family="'Liberation Serif', 'Times New Roman', serif" font-size="55.7px" fill="#000">
<line x1="462.1" y1="995.0" x2="579.7" y2="995.0" stroke="#F83838" stroke-width="5.4" stroke-linecap="round"/>
<text transform="translate(592.5,1013.4) scale(0.944,1)"><tspan x="1.48">1'#</tspan> <tspan x="79.45">microcapsules</tspan> <tspan x="408.90">with</tspan> <tspan x="523.83">HLB</tspan> <tspan x="651.48">value</tspan> <tspan x="783.37">of</tspan> <tspan x="842.69">4.30</tspan></text>
<line x1="462.1" y1="1060.8" x2="579.7" y2="1060.8" stroke="#1666E0" stroke-width="5.4" stroke-linecap="round"/>
<text transform="translate(592.5,1079.2) scale(0.944,1)"><tspan x="1.48">2'#</tspan> <tspan x="79.45">microcapsules</tspan> <tspan x="408.90">with</tspan> <tspan x="523.83">HLB</tspan> <tspan x="651.48">value</tspan> <tspan x="783.37">of</tspan> <tspan x="842.69">4.97</tspan></text>
<line x1="462.1" y1="1126.6" x2="579.7" y2="1126.6" stroke="#2FA866" stroke-width="5.4" stroke-linecap="round"/>
<text transform="translate(592.5,1145.0) scale(0.944,1)"><tspan x="1.48">3'#</tspan> <tspan x="79.45">microcapsules</tspan> <tspan x="408.90">with</tspan> <tspan x="523.83">HLB</tspan> <tspan x="651.48">value</tspan> <tspan x="783.37">of</tspan> <tspan x="842.69">5.64</tspan></text>
<line x1="462.1" y1="1192.4" x2="579.7" y2="1192.4" stroke="#B06CE2" stroke-width="5.4" stroke-linecap="round"/>
<text transform="translate(592.5,1210.8) scale(0.944,1)"><tspan x="1.48">4'#</tspan> <tspan x="79.45">microcapsules</tspan> <tspan x="408.90">with</tspan> <tspan x="523.83">HLB</tspan> <tspan x="651.48">value</tspan> <tspan x="783.37">of</tspan> <tspan x="842.69">6.31</tspan></text>
<line x1="462.1" y1="1258.2" x2="579.7" y2="1258.2" stroke="#CB9A06" stroke-width="5.4" stroke-linecap="round"/>
<text transform="translate(592.5,1276.6) scale(0.944,1)"><tspan x="1.48">5'#</tspan> <tspan x="79.45">microcapsules</tspan> <tspan x="408.90">with</tspan> <tspan x="523.83">HLB</tspan> <tspan x="651.48">value</tspan> <tspan x="783.37">of</tspan> <tspan x="842.69">6.98</tspan></text>
<line x1="462.1" y1="1324.0" x2="579.7" y2="1324.0" stroke="#05C9CB" stroke-width="5.4" stroke-linecap="round"/>
<text transform="translate(592.5,1342.4) scale(0.944,1)"><tspan x="1.48">6'#</tspan> <tspan x="79.45">microcapsules</tspan> <tspan x="408.90">with</tspan> <tspan x="523.83">HLB</tspan> <tspan x="651.48">value</tspan> <tspan x="783.37">of</tspan> <tspan x="842.69">7.65</tspan></text>
<line x1="462.1" y1="1389.8" x2="579.7" y2="1389.8" stroke="#7B4549" stroke-width="5.4" stroke-linecap="round"/>
<text transform="translate(592.5,1408.2) scale(0.944,1)"><tspan x="1.48">7'#</tspan> <tspan x="79.45">microcapsules</tspan> <tspan x="408.90">with</tspan> <tspan x="523.83">HLB</tspan> <tspan x="651.48">value</tspan> <tspan x="783.37">of</tspan> <tspan x="842.69">8.31</tspan></text>
</g>
<g font-family="'Liberation Serif', 'Times New Roman', serif" font-size="66px" fill="#000" stroke="#fff" stroke-width="1.1">
<text transform="translate(294.7,1585.2) scale(0.92,1)" text-anchor="middle">300</text>
<text transform="translate(651.1,1585.2) scale(0.92,1)" text-anchor="middle">400</text>
<text transform="translate(1007.5,1585.2) scale(0.92,1)" text-anchor="middle">500</text>
<text transform="translate(1364.0,1585.2) scale(0.92,1)" text-anchor="middle">600</text>
<text transform="translate(1720.4,1585.2) scale(0.92,1)" text-anchor="middle">700</text>
<text transform="translate(2076.8,1585.2) scale(0.92,1)" text-anchor="middle">800</text>
<text transform="translate(247.6,1509.4) scale(0.92,1)" text-anchor="end">30</text>
<text transform="translate(247.6,1303.1) scale(0.92,1)" text-anchor="end">40</text>
<text transform="translate(247.6,1096.7) scale(0.92,1)" text-anchor="end">50</text>
<text transform="translate(247.6,890.4) scale(0.92,1)" text-anchor="end">60</text>
<text transform="translate(247.6,684.1) scale(0.92,1)" text-anchor="end">70</text>
<text transform="translate(247.6,477.8) scale(0.92,1)" text-anchor="end">80</text>
<text transform="translate(247.6,271.4) scale(0.92,1)" text-anchor="end">90</text>
<text transform="translate(247.6,65.1) scale(0.92,1)" text-anchor="end">100</text>
</g>
<g font-family="'Liberation Serif', 'Times New Roman', serif" font-size="77px" fill="#000">
<text transform="translate(1189.5,1708.0) scale(0.977,1)" text-anchor="middle">Wavelength (nm)</text>
<text transform="translate(72.5,735.4) rotate(-90) scale(0.9905,1)" text-anchor="middle" font-size="77.5px">Transmittance<tspan dx="-2" letter-spacing="-1.6"> (%)</tspan></text>
</g>
</svg>
</body></html>
